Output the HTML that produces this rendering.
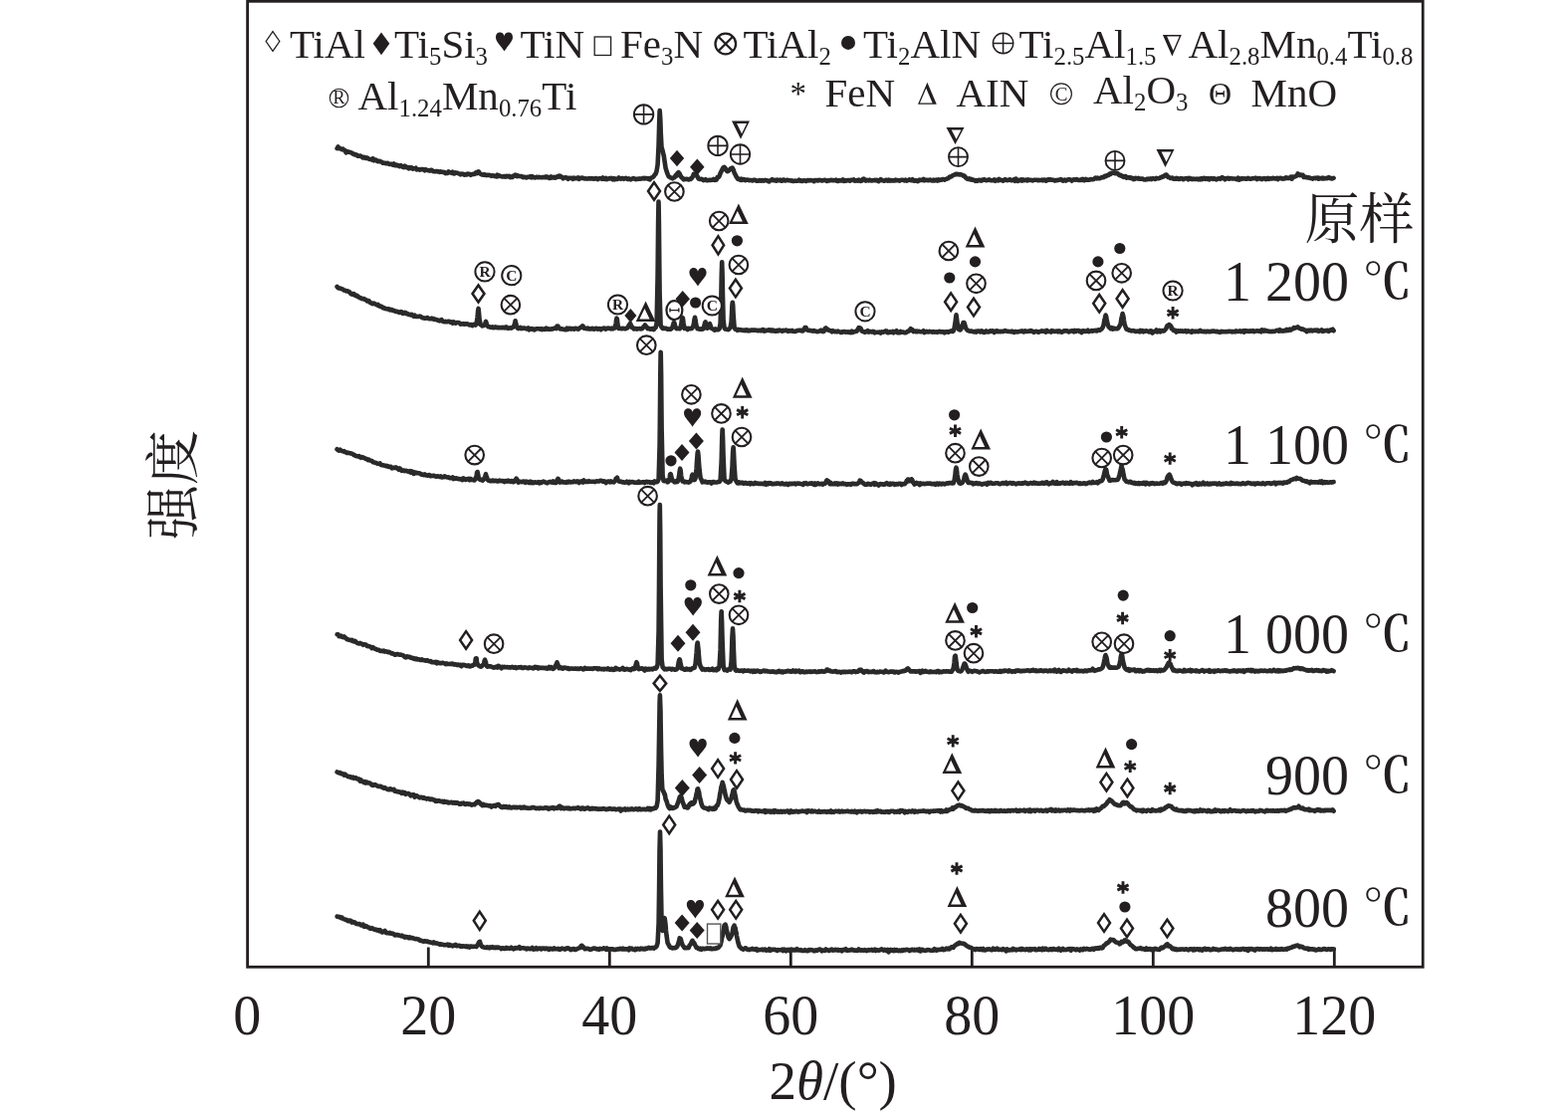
<!DOCTYPE html>
<html><head><meta charset="utf-8"><style>
html,body{margin:0;padding:0;background:#fff;}
svg{display:block;}
.s{font-family:"Liberation Serif","Noto Serif CJK SC",serif;fill:#231f20;}
.cj{font-family:"Liberation Serif","Noto Serif CJK SC",serif;fill:#231f20;}
</style></head><body>
<svg width="1575" height="1120" viewBox="0 0 1575 1120">
<rect width="1575" height="1120" fill="#fff"/>
<rect x="248.6" y="1.3" width="1180.6" height="970" fill="none" stroke="#231f20" stroke-width="2.8"/><path d="M430.3 951.5V971" stroke="#231f20" stroke-width="2.8"/><path d="M612.3 951.5V971" stroke="#231f20" stroke-width="2.8"/><path d="M794.3 951.5V971" stroke="#231f20" stroke-width="2.8"/><path d="M976.3 951.5V971" stroke="#231f20" stroke-width="2.8"/><path d="M1158.3 951.5V971" stroke="#231f20" stroke-width="2.8"/><path d="M1340.3 951.5V971" stroke="#231f20" stroke-width="2.8"/>
<ellipse cx="677.4" cy="311.6" rx="8" ry="9.5" fill="#fff" stroke="#231f20" stroke-width="2.2"/><path d="M673.0 311.6L681.8 311.6M673.0 309.6L673.0 313.6M681.8 309.6L681.8 313.6" stroke="#231f20" stroke-width="1.4"/>
<path d="M338.6 149.1 L339.6 147.5 L340.6 149.2 L341.6 149.2 L342.6 149.6 L343.6 150.1 L344.6 149.7 L345.6 150.9 L346.6 151.0 L347.6 153.3 L348.6 152.3 L349.6 152.4 L350.6 152.8 L351.6 153.0 L352.6 153.2 L353.6 153.9 L354.6 154.6 L355.6 154.6 L356.6 155.5 L357.6 155.3 L358.6 155.8 L359.6 156.8 L360.6 156.6 L361.6 156.5 L362.6 156.9 L363.6 157.6 L364.6 158.5 L365.6 157.8 L366.6 158.1 L367.6 159.0 L368.6 158.4 L369.6 159.0 L370.6 159.8 L371.6 160.0 L372.6 160.0 L373.6 160.6 L374.6 159.3 L375.6 161.3 L376.6 160.6 L377.6 160.6 L378.6 161.7 L379.6 162.2 L380.6 161.9 L381.6 161.9 L382.6 162.6 L383.6 162.8 L384.6 163.7 L385.6 163.7 L386.6 163.7 L387.6 164.3 L388.6 164.0 L389.6 163.9 L390.6 164.8 L391.6 165.0 L392.6 164.9 L393.6 164.9 L394.6 165.6 L395.6 164.5 L396.6 166.2 L397.6 166.3 L398.6 165.6 L399.6 166.5 L400.6 166.3 L401.6 167.2 L402.6 166.2 L403.6 166.9 L404.6 167.8 L405.6 168.1 L406.6 166.8 L407.6 167.7 L408.6 168.3 L409.6 168.0 L410.6 169.2 L411.6 168.1 L412.6 168.9 L413.6 168.4 L414.6 169.7 L415.6 169.2 L416.6 169.2 L417.6 168.7 L418.6 170.4 L419.6 170.1 L420.6 170.2 L421.6 170.6 L422.6 170.3 L423.6 170.0 L424.6 170.1 L425.6 170.2 L426.6 171.3 L427.6 170.2 L428.6 170.7 L429.6 170.9 L430.6 171.3 L431.6 171.6 L432.6 170.9 L433.6 170.8 L434.6 171.7 L435.6 172.3 L436.6 172.2 L437.6 172.1 L438.6 172.0 L439.6 172.4 L440.6 172.2 L441.6 172.8 L442.6 172.2 L443.6 172.7 L444.6 172.7 L445.6 173.1 L446.6 173.1 L447.6 174.2 L448.6 173.8 L449.6 173.9 L450.6 172.4 L451.6 173.3 L452.6 173.3 L453.6 173.9 L454.6 172.7 L455.6 174.4 L456.6 174.4 L457.6 173.4 L458.6 173.7 L459.6 173.8 L460.6 174.3 L461.6 174.7 L462.6 175.4 L463.6 174.5 L464.6 175.0 L465.6 174.8 L466.6 175.6 L467.6 175.2 L468.6 175.5 L469.6 174.5 L470.6 175.0 L471.6 174.7 L472.6 175.8 L473.6 175.4 L474.6 175.0 L475.6 174.8 L476.6 174.9 L477.6 173.8 L478.0 173.4 L478.6 173.6 L479.0 174.2 L479.6 172.7 L480.0 172.5 L480.6 172.4 L481.0 172.6 L481.6 173.9 L482.0 174.4 L482.6 174.5 L483.6 175.3 L484.6 175.6 L485.6 175.8 L486.6 175.2 L487.6 175.8 L488.6 176.1 L489.6 175.8 L490.6 176.0 L491.6 175.9 L492.6 176.2 L493.6 176.8 L494.6 176.2 L495.6 176.4 L496.6 176.9 L497.6 176.9 L498.6 177.4 L499.6 175.7 L500.6 177.1 L501.6 176.5 L502.6 176.9 L503.6 177.2 L504.6 177.4 L505.6 177.4 L506.6 177.0 L507.6 177.7 L508.6 176.9 L509.6 177.0 L510.6 177.4 L511.6 176.9 L512.6 178.1 L513.6 177.6 L514.6 178.0 L515.6 176.8 L516.5 176.3 L516.6 176.5 L517.2 176.4 L517.6 175.7 L518.0 176.1 L518.6 176.0 L518.8 176.9 L519.5 176.3 L519.6 177.1 L520.6 176.8 L521.6 176.9 L522.6 177.1 L523.6 177.0 L524.6 177.6 L525.6 178.1 L526.6 177.7 L527.6 178.0 L528.6 178.5 L529.6 177.9 L530.6 177.9 L531.6 177.7 L532.6 177.1 L533.6 178.2 L534.6 177.1 L535.6 178.2 L536.6 178.0 L537.6 178.5 L538.6 178.0 L539.6 177.7 L540.6 178.3 L541.6 177.9 L542.6 178.1 L543.6 178.2 L544.6 178.1 L545.6 178.1 L546.6 177.9 L547.6 178.2 L548.6 177.3 L549.6 178.2 L550.6 177.8 L551.6 178.9 L552.6 178.9 L553.6 177.5 L554.6 178.5 L555.6 178.4 L556.6 177.9 L557.6 178.6 L558.6 178.1 L559.6 177.3 L560.5 177.6 L560.6 177.6 L561.2 177.3 L561.6 176.6 L562.0 177.4 L562.6 177.6 L562.8 176.8 L563.5 177.4 L563.6 177.8 L564.6 178.0 L565.6 179.3 L566.6 178.7 L567.6 178.2 L568.6 178.3 L569.6 178.7 L570.6 179.8 L571.6 178.7 L572.6 178.9 L573.6 179.0 L574.6 178.8 L575.6 179.9 L576.6 178.6 L577.6 179.2 L578.6 179.0 L579.6 179.2 L580.6 178.4 L581.6 179.8 L582.6 178.9 L583.6 179.0 L584.6 178.6 L585.6 178.7 L586.6 179.3 L587.6 179.5 L588.6 179.4 L589.6 179.6 L590.6 179.4 L591.6 179.1 L592.6 179.5 L593.6 179.4 L594.6 179.1 L595.6 179.5 L596.6 179.8 L597.6 179.3 L598.6 179.1 L599.6 179.6 L600.6 180.1 L601.6 179.2 L602.6 179.3 L603.6 179.3 L604.6 179.9 L605.6 178.5 L606.6 179.5 L607.6 179.9 L608.6 179.0 L609.6 180.1 L610.6 179.7 L611.6 179.2 L612.6 179.5 L613.6 178.8 L614.6 179.2 L615.6 180.3 L616.6 179.1 L617.6 180.3 L618.6 179.5 L619.6 180.0 L620.6 179.6 L621.6 178.5 L622.6 179.3 L623.6 179.7 L624.6 179.1 L625.6 179.0 L626.6 179.8 L627.6 179.3 L628.6 178.9 L629.6 179.3 L630.6 180.0 L631.6 179.4 L632.6 180.1 L633.6 180.4 L634.6 179.7 L635.6 179.2 L636.6 179.1 L637.6 179.7 L638.6 180.1 L639.6 179.8 L640.6 179.9 L641.6 179.5 L642.6 179.8 L643.6 179.5 L644.6 179.5 L645.6 179.1 L646.6 178.9 L647.6 179.4 L648.6 179.0 L649.6 179.0 L650.6 179.7 L651.6 179.2 L652.6 180.4 L653.6 179.3 L654.6 178.2 L655.6 178.2 L656.6 177.2 L657.6 175.6 L658.6 174.8 L659.6 171.7 L660.6 165.5 L661.6 145.5 L661.7 141.2 L662.2 123.1 L662.6 112.2 L662.7 111.1 L663.2 118.4 L663.4 122.8 L663.6 129.4 L663.7 132.9 L664.5 147.6 L664.6 148.3 L665.6 151.5 L666.6 155.9 L666.7 155.8 L667.6 162.1 L667.8 163.4 L668.6 168.9 L669.6 172.2 L670.6 174.8 L671.6 177.2 L672.6 177.7 L673.6 178.6 L674.6 178.8 L675.6 179.4 L676.6 178.5 L677.6 178.3 L678.6 176.2 L679.5 175.6 L679.6 176.6 L680.5 174.1 L680.6 173.9 L681.5 173.1 L681.6 173.9 L682.5 174.6 L682.6 174.2 L683.5 176.6 L683.6 176.6 L684.6 178.4 L685.6 178.8 L686.6 180.4 L687.6 180.1 L688.6 180.0 L689.6 179.8 L690.6 180.0 L691.6 180.5 L692.6 179.8 L693.6 180.0 L694.6 179.0 L695.5 178.1 L695.6 177.8 L696.6 175.8 L696.8 174.7 L697.6 174.8 L698.0 174.9 L698.6 174.9 L699.2 175.9 L699.6 176.0 L700.5 177.5 L700.6 177.4 L701.6 179.6 L702.6 179.9 L703.6 180.0 L704.6 179.8 L705.6 180.4 L706.6 181.1 L707.6 180.7 L708.6 180.2 L709.6 181.2 L710.6 181.2 L711.6 181.0 L712.6 180.9 L713.6 181.0 L714.6 180.7 L715.6 180.8 L716.6 180.0 L717.6 180.9 L718.6 180.1 L719.6 180.5 L720.6 178.1 L721.6 178.2 L722.6 176.8 L723.6 174.1 L724.6 172.0 L725.6 169.9 L726.6 168.3 L727.6 167.8 L728.6 169.1 L729.6 171.1 L730.6 172.2 L731.6 171.7 L732.6 170.9 L733.6 169.6 L734.6 169.1 L735.6 168.7 L736.6 170.4 L737.6 173.6 L738.6 175.4 L739.6 177.5 L740.6 179.0 L741.6 180.0 L742.6 179.7 L743.6 180.8 L744.6 179.8 L745.6 180.9 L746.6 180.0 L747.6 180.2 L748.6 181.2 L749.6 180.7 L750.6 180.6 L751.6 180.8 L752.6 181.2 L753.6 181.0 L754.6 181.0 L755.6 181.5 L756.6 180.8 L757.6 180.9 L758.6 180.9 L759.6 181.6 L760.6 181.6 L761.6 181.7 L762.6 181.1 L763.6 181.1 L764.6 181.6 L765.6 181.0 L766.6 181.6 L767.6 181.5 L768.6 180.9 L769.6 181.2 L770.6 181.2 L771.6 182.0 L772.6 182.4 L773.6 181.2 L774.6 181.2 L775.6 180.2 L776.6 181.3 L777.6 181.2 L778.6 180.8 L779.6 181.6 L780.6 180.5 L781.6 181.1 L782.6 181.3 L783.6 180.7 L784.6 181.6 L785.6 181.7 L786.6 180.6 L787.6 180.6 L788.6 181.5 L789.6 181.2 L790.6 180.7 L791.6 181.1 L792.6 181.2 L793.6 181.2 L794.6 181.6 L795.6 181.4 L796.6 182.0 L797.6 181.9 L798.6 181.6 L799.6 181.7 L800.6 181.8 L801.6 181.6 L802.6 180.7 L803.6 181.6 L804.6 181.3 L805.6 182.0 L806.6 181.3 L807.6 181.5 L808.6 181.4 L809.6 182.0 L810.6 181.3 L811.6 181.1 L812.6 181.4 L813.6 181.0 L814.6 181.3 L815.6 181.2 L816.6 181.4 L817.6 182.1 L818.6 181.0 L819.6 181.2 L820.6 181.1 L821.6 181.5 L822.6 180.7 L823.6 180.9 L824.6 181.2 L825.6 181.5 L826.6 181.2 L827.6 181.0 L828.6 180.8 L829.6 181.4 L830.6 181.9 L831.6 181.4 L832.6 181.3 L833.6 181.4 L834.6 180.8 L835.6 181.1 L836.6 181.1 L837.6 181.3 L838.6 181.2 L839.6 180.6 L840.6 181.7 L841.6 181.9 L842.6 181.1 L843.6 181.4 L844.6 181.3 L845.6 181.5 L846.6 180.5 L847.6 181.9 L848.6 181.0 L849.6 181.7 L850.6 181.2 L851.6 181.0 L852.6 181.1 L853.6 181.6 L854.6 180.8 L855.6 181.0 L856.6 180.9 L857.6 180.4 L858.6 181.7 L859.6 181.4 L860.6 181.1 L861.6 181.7 L862.6 180.7 L863.6 181.1 L864.6 181.9 L865.6 181.6 L866.6 180.1 L867.6 179.6 L868.6 180.7 L869.6 181.6 L870.6 180.9 L871.6 181.0 L872.6 181.4 L873.6 180.7 L874.6 181.2 L875.6 181.5 L876.6 181.3 L877.6 181.3 L878.6 180.8 L879.6 181.3 L880.6 180.9 L881.6 181.7 L882.6 182.2 L883.6 180.8 L884.6 180.1 L885.6 180.9 L886.6 181.3 L887.6 181.6 L888.6 181.6 L889.6 180.7 L890.6 180.7 L891.6 181.6 L892.6 180.6 L893.6 181.6 L894.6 181.0 L895.6 181.4 L896.6 181.4 L897.6 181.4 L898.6 181.4 L899.6 180.6 L900.6 181.2 L901.6 181.1 L902.6 181.2 L903.6 181.6 L904.6 180.9 L905.6 180.7 L906.6 180.7 L907.6 180.9 L908.6 181.4 L909.6 180.7 L910.6 181.6 L911.6 181.2 L912.6 180.9 L913.6 180.4 L914.6 181.1 L915.6 181.3 L916.6 180.2 L917.6 181.6 L918.6 181.8 L919.6 181.2 L920.6 181.2 L921.6 182.1 L922.6 181.6 L923.6 180.6 L924.6 181.0 L925.6 180.9 L926.6 180.9 L927.6 179.9 L928.6 181.3 L929.6 180.7 L930.6 181.0 L931.6 180.9 L932.6 181.3 L933.6 180.8 L934.6 180.6 L935.6 181.2 L936.6 181.5 L937.6 180.7 L938.6 181.5 L939.6 181.0 L940.6 180.6 L941.6 181.5 L942.6 180.4 L943.6 181.2 L944.6 180.5 L945.6 180.8 L946.6 180.0 L947.6 180.0 L948.6 180.7 L949.6 180.1 L950.6 179.8 L951.6 179.2 L952.6 179.2 L953.6 177.9 L954.6 177.5 L955.6 177.4 L956.6 176.5 L957.6 175.9 L958.6 175.6 L959.6 175.1 L960.6 174.7 L961.6 175.3 L962.6 175.0 L963.6 175.4 L964.6 175.2 L965.6 175.5 L966.6 175.7 L967.6 176.8 L968.6 176.6 L969.6 177.9 L970.6 179.0 L971.6 179.8 L972.6 179.9 L973.6 179.4 L974.6 180.3 L975.6 179.9 L976.6 180.8 L977.6 180.5 L978.6 181.0 L979.6 181.8 L980.6 181.1 L981.6 181.8 L982.6 180.9 L983.6 180.7 L984.6 181.4 L985.6 181.6 L986.6 180.6 L987.6 180.9 L988.6 180.2 L989.6 180.8 L990.6 181.3 L991.6 180.9 L992.6 180.7 L993.6 180.3 L994.6 181.1 L995.6 181.3 L996.6 181.2 L997.6 181.1 L998.6 180.4 L999.6 181.7 L1000.6 180.9 L1001.6 180.9 L1002.6 181.3 L1003.6 180.0 L1004.6 180.9 L1005.6 180.9 L1006.6 181.1 L1007.6 181.6 L1008.6 181.2 L1009.6 180.1 L1010.6 180.8 L1011.6 181.1 L1012.6 181.0 L1013.6 180.4 L1014.6 180.2 L1015.6 181.2 L1016.6 181.1 L1017.6 181.0 L1018.6 180.2 L1019.6 181.8 L1020.6 179.7 L1021.6 180.8 L1022.6 181.9 L1023.6 180.9 L1024.6 181.1 L1025.6 180.4 L1026.6 181.6 L1027.6 180.4 L1028.6 181.1 L1029.6 181.0 L1030.6 180.5 L1031.6 181.4 L1032.6 180.3 L1033.6 180.7 L1034.6 181.0 L1035.6 180.8 L1036.6 181.2 L1037.6 181.4 L1038.6 180.8 L1039.6 180.7 L1040.6 180.7 L1041.6 180.8 L1042.6 181.3 L1043.6 180.9 L1044.6 181.1 L1045.6 180.9 L1046.6 180.6 L1047.6 181.3 L1048.6 180.5 L1049.6 180.9 L1050.6 181.6 L1051.6 180.5 L1052.6 180.9 L1053.6 180.2 L1054.6 180.7 L1055.6 180.3 L1056.6 180.8 L1057.6 180.7 L1058.6 181.0 L1059.6 181.6 L1060.6 181.0 L1061.6 181.2 L1062.6 180.9 L1063.6 180.8 L1064.6 180.5 L1065.6 180.1 L1066.6 180.9 L1067.6 181.6 L1068.6 181.1 L1069.6 180.6 L1070.6 181.6 L1071.6 180.7 L1072.6 180.6 L1073.6 180.3 L1074.6 180.4 L1075.6 180.7 L1076.6 181.7 L1077.6 180.7 L1078.6 180.3 L1079.6 180.5 L1080.6 180.7 L1081.6 180.0 L1082.6 180.8 L1083.6 181.0 L1084.6 180.8 L1085.6 180.9 L1086.6 180.1 L1087.6 179.9 L1088.6 181.2 L1089.6 181.1 L1090.6 179.9 L1091.6 180.6 L1092.6 180.5 L1093.6 180.7 L1094.6 180.5 L1095.6 180.1 L1096.6 180.3 L1097.6 180.2 L1098.6 180.0 L1099.6 179.1 L1100.6 178.5 L1101.6 179.3 L1102.6 178.7 L1103.6 179.3 L1104.6 179.3 L1105.6 178.8 L1106.6 178.1 L1107.6 178.0 L1108.6 178.1 L1109.6 176.8 L1110.6 177.1 L1111.6 176.6 L1112.6 175.9 L1113.6 176.0 L1114.6 174.6 L1115.6 175.0 L1116.6 173.9 L1117.6 173.8 L1118.6 173.5 L1119.6 174.2 L1120.6 173.7 L1121.6 174.3 L1122.6 174.1 L1123.6 175.4 L1124.6 176.1 L1125.6 175.8 L1126.6 176.9 L1127.6 176.8 L1128.6 177.9 L1129.6 177.4 L1130.6 177.0 L1131.6 178.7 L1132.6 178.3 L1133.6 178.2 L1134.6 178.6 L1135.6 178.3 L1136.6 179.1 L1137.6 178.9 L1138.6 180.1 L1139.6 179.9 L1140.6 178.9 L1141.6 179.0 L1142.6 179.5 L1143.6 178.9 L1144.6 179.8 L1145.6 179.8 L1146.6 179.5 L1147.6 179.6 L1148.6 180.1 L1149.6 180.5 L1150.6 180.5 L1151.6 179.9 L1152.6 180.2 L1153.6 179.5 L1154.6 180.0 L1155.6 179.4 L1156.6 180.1 L1157.6 179.2 L1158.6 179.3 L1159.6 179.7 L1160.6 179.9 L1161.6 178.9 L1162.6 179.2 L1163.6 179.3 L1164.6 179.1 L1165.6 178.2 L1166.6 178.1 L1167.6 177.3 L1168.6 177.5 L1169.6 176.7 L1170.6 175.7 L1171.6 175.5 L1172.6 177.0 L1173.6 178.0 L1174.6 178.2 L1175.6 179.0 L1176.6 178.7 L1177.6 178.6 L1178.6 179.7 L1179.6 179.5 L1180.6 179.8 L1181.6 178.9 L1182.6 179.7 L1183.6 179.3 L1184.6 180.0 L1185.6 179.4 L1186.6 179.3 L1187.6 179.4 L1188.6 180.2 L1189.6 179.6 L1190.6 179.3 L1191.6 179.2 L1192.6 179.1 L1193.6 180.3 L1194.6 178.8 L1195.6 179.2 L1196.6 179.9 L1197.6 180.1 L1198.6 179.5 L1199.6 180.0 L1200.6 179.9 L1201.6 180.0 L1202.6 179.6 L1203.6 180.3 L1204.6 179.7 L1205.6 180.3 L1206.6 179.1 L1207.6 180.0 L1208.6 179.0 L1209.6 178.9 L1210.6 179.8 L1211.6 179.2 L1212.6 179.8 L1213.6 179.1 L1214.6 180.3 L1215.6 179.6 L1216.6 179.0 L1217.6 179.6 L1218.6 179.9 L1219.6 179.2 L1220.6 179.8 L1221.6 180.4 L1222.6 179.9 L1223.6 179.5 L1224.6 179.3 L1225.6 179.8 L1226.6 178.8 L1227.6 178.1 L1228.6 179.2 L1229.6 179.0 L1230.6 180.3 L1231.6 179.5 L1232.6 179.0 L1233.6 178.9 L1234.6 179.7 L1235.6 179.1 L1236.6 179.2 L1237.6 179.4 L1238.6 179.5 L1239.6 179.5 L1240.6 179.5 L1241.6 180.0 L1242.6 180.2 L1243.6 178.7 L1244.6 180.6 L1245.6 179.5 L1246.6 180.0 L1247.6 179.1 L1248.6 179.5 L1249.6 179.5 L1250.6 179.4 L1251.6 179.8 L1252.6 179.7 L1253.6 178.9 L1254.6 179.3 L1255.6 179.7 L1256.6 179.7 L1257.6 179.2 L1258.6 179.2 L1259.6 179.3 L1260.6 178.8 L1261.6 178.8 L1262.6 180.0 L1263.6 179.1 L1264.6 179.4 L1265.6 179.0 L1266.6 179.9 L1267.6 180.1 L1268.6 179.2 L1269.6 179.5 L1270.6 179.0 L1271.6 180.1 L1272.6 179.7 L1273.6 178.9 L1274.6 179.8 L1275.6 179.4 L1276.6 179.4 L1277.6 179.4 L1278.6 178.9 L1279.6 179.0 L1280.6 179.5 L1281.6 179.2 L1282.6 178.8 L1283.6 180.1 L1284.6 179.1 L1285.6 178.9 L1286.6 178.9 L1287.6 179.5 L1288.6 179.6 L1289.6 179.2 L1290.6 179.5 L1291.6 178.4 L1292.6 178.9 L1293.6 178.7 L1294.6 178.9 L1295.6 178.9 L1296.6 177.6 L1297.6 179.7 L1298.6 177.6 L1299.6 177.7 L1300.6 177.5 L1301.6 177.0 L1302.6 176.3 L1303.6 174.5 L1304.6 175.2 L1305.6 176.1 L1306.6 175.6 L1307.6 175.9 L1308.6 175.8 L1309.6 177.9 L1310.6 178.0 L1311.6 177.7 L1312.6 178.3 L1313.6 178.5 L1314.6 178.2 L1315.6 178.7 L1316.6 179.0 L1317.6 179.2 L1318.6 179.6 L1319.6 179.0 L1320.6 178.8 L1321.6 179.2 L1322.6 178.8 L1323.6 178.5 L1324.6 179.6 L1325.6 178.9 L1326.6 179.1 L1327.6 179.4 L1328.6 178.6 L1329.6 179.4 L1330.6 179.3 L1331.6 179.0 L1332.6 179.3 L1333.6 178.7 L1334.6 178.1 L1335.6 178.9 L1336.6 178.7 L1337.6 179.5 L1338.6 179.2 L1339.6 178.8" fill="none" stroke="#2a2a2a" stroke-width="4.6" stroke-linejoin="round" stroke-linecap="round"/><path d="M338.6 288.0 L339.6 289.1 L340.6 289.5 L341.6 289.6 L342.6 290.1 L343.6 290.3 L344.6 290.8 L345.6 291.6 L346.6 291.8 L347.6 292.4 L348.6 292.3 L349.6 292.5 L350.6 293.0 L351.6 294.0 L352.6 295.2 L353.6 295.6 L354.6 295.1 L355.6 295.3 L356.6 296.8 L357.6 297.1 L358.6 296.8 L359.6 298.3 L360.6 298.4 L361.6 299.3 L362.6 299.3 L363.6 300.0 L364.6 300.3 L365.6 300.1 L366.6 300.9 L367.6 301.2 L368.6 302.4 L369.6 302.0 L370.6 302.2 L371.6 303.7 L372.6 304.3 L373.6 304.9 L374.6 305.2 L375.6 304.5 L376.6 305.3 L377.6 305.8 L378.6 306.4 L379.6 305.9 L380.6 307.3 L381.6 307.8 L382.6 307.6 L383.6 308.4 L384.6 309.3 L385.6 309.1 L386.6 309.9 L387.6 310.1 L388.6 310.2 L389.6 310.5 L390.6 310.4 L391.6 311.4 L392.6 310.9 L393.6 311.1 L394.6 312.0 L395.6 311.7 L396.6 312.5 L397.6 313.0 L398.6 312.8 L399.6 313.1 L400.6 313.7 L401.6 313.9 L402.6 313.1 L403.6 313.5 L404.6 314.9 L405.6 314.7 L406.6 313.9 L407.6 314.4 L408.6 315.3 L409.6 315.1 L410.6 316.0 L411.6 316.0 L412.6 316.4 L413.6 315.9 L414.6 316.9 L415.6 317.8 L416.6 316.7 L417.6 317.9 L418.6 318.0 L419.6 318.0 L420.6 317.9 L421.6 317.6 L422.6 317.9 L423.6 318.9 L424.6 319.2 L425.6 319.5 L426.6 319.6 L427.6 319.7 L428.6 319.3 L429.6 319.1 L430.6 320.0 L431.6 320.3 L432.6 320.3 L433.6 319.7 L434.6 320.4 L435.6 320.1 L436.6 321.0 L437.6 320.7 L438.6 321.2 L439.6 321.6 L440.6 321.7 L441.6 322.4 L442.6 321.5 L443.6 321.2 L444.6 322.7 L445.6 323.1 L446.6 323.3 L447.6 322.9 L448.6 323.2 L449.6 323.1 L450.6 322.7 L451.6 323.1 L452.6 323.8 L453.6 323.4 L454.6 324.7 L455.6 323.3 L456.6 323.9 L457.6 324.7 L458.6 324.1 L459.6 324.0 L460.6 324.0 L461.6 324.5 L462.6 325.6 L463.6 325.2 L464.6 325.4 L465.6 325.1 L466.6 325.8 L467.6 325.6 L468.6 325.2 L469.6 325.5 L470.6 325.9 L471.6 326.5 L472.6 326.0 L473.6 326.4 L474.6 327.1 L475.6 325.9 L476.6 325.7 L477.6 326.5 L478.6 325.4 L479.6 318.6 L479.7 317.6 L480.1 312.3 L480.5 310.2 L480.6 310.0 L480.9 312.9 L481.3 317.1 L481.6 320.6 L482.6 326.0 L483.6 326.6 L484.6 327.4 L485.6 327.1 L486.6 326.4 L487.2 325.5 L487.6 324.0 L488.0 323.0 L488.4 323.8 L488.6 324.6 L488.8 325.4 L489.6 327.3 L490.6 328.2 L491.6 328.3 L492.6 328.9 L493.6 328.8 L494.6 328.3 L495.6 329.2 L496.6 329.0 L497.6 328.4 L498.6 328.8 L499.6 329.2 L500.6 328.9 L501.6 329.3 L502.6 329.1 L503.6 329.3 L504.6 328.9 L505.6 329.2 L506.6 328.9 L507.6 329.5 L508.6 328.4 L509.6 329.4 L510.6 329.9 L511.6 329.6 L512.6 329.3 L513.6 329.6 L514.6 328.9 L515.6 328.6 L516.6 326.5 L516.8 325.7 L517.2 324.1 L517.6 322.3 L518.0 324.2 L518.4 325.1 L518.6 326.4 L519.6 329.2 L520.6 330.1 L521.6 329.5 L522.6 328.9 L523.6 330.1 L524.6 329.9 L525.6 329.5 L526.6 329.6 L527.6 329.8 L528.6 330.2 L529.6 330.5 L530.6 329.5 L531.6 331.3 L532.6 330.2 L533.6 330.1 L534.6 330.6 L535.6 330.4 L536.6 331.4 L537.6 330.9 L538.6 330.3 L539.6 330.3 L540.6 330.2 L541.6 330.3 L542.6 330.8 L543.6 330.2 L544.6 331.2 L545.6 330.5 L546.6 330.5 L547.6 331.0 L548.6 329.6 L549.6 330.1 L550.6 330.8 L551.6 330.5 L552.6 330.5 L553.6 330.7 L554.6 330.2 L555.6 330.4 L556.6 329.8 L557.6 329.4 L558.6 330.0 L559.0 328.4 L559.5 327.6 L559.6 328.4 L560.0 328.0 L560.5 327.7 L560.6 327.9 L561.0 328.8 L561.6 329.3 L562.6 330.5 L563.6 330.4 L564.6 330.4 L565.6 330.7 L566.6 330.7 L567.6 331.2 L568.6 331.1 L569.6 329.6 L570.6 330.8 L571.6 329.8 L572.6 329.7 L573.6 330.6 L574.6 330.0 L575.6 330.1 L576.6 330.7 L577.6 329.9 L578.6 329.8 L579.6 330.3 L580.6 330.7 L581.6 330.3 L582.6 329.2 L583.6 328.8 L584.0 328.4 L584.5 328.5 L584.6 327.9 L585.0 327.5 L585.5 328.1 L585.6 327.6 L586.0 328.7 L586.6 329.6 L587.6 329.5 L588.6 330.0 L589.6 330.3 L590.6 329.6 L591.6 330.4 L592.6 330.4 L593.6 330.5 L594.6 329.7 L595.6 330.1 L596.6 330.7 L597.6 330.4 L598.6 329.7 L599.6 330.1 L600.6 330.7 L601.6 330.0 L602.6 330.2 L603.6 331.2 L604.6 330.0 L605.6 330.0 L606.6 329.6 L607.6 329.8 L608.6 330.7 L609.6 330.0 L610.6 329.5 L611.6 329.7 L612.6 330.1 L613.6 330.4 L614.6 329.7 L615.6 330.3 L616.6 329.6 L617.6 329.4 L618.6 325.3 L618.7 324.6 L619.1 321.1 L619.5 319.6 L619.6 320.1 L619.9 320.7 L620.3 324.4 L620.6 326.7 L621.6 330.0 L622.6 329.9 L623.6 330.0 L624.6 330.2 L625.6 329.8 L626.6 330.1 L627.6 330.3 L628.6 330.2 L629.6 329.5 L630.6 329.2 L631.6 326.9 L631.8 327.7 L632.4 325.8 L632.6 325.8 L633.0 324.9 L633.6 326.0 L634.2 327.6 L634.6 328.7 L635.6 329.0 L636.6 330.5 L637.6 330.2 L638.6 330.0 L639.6 330.6 L640.6 330.2 L641.6 330.2 L642.6 330.0 L643.6 330.4 L644.6 330.2 L645.6 329.6 L646.6 328.0 L646.8 327.9 L647.4 327.2 L647.6 327.3 L648.0 326.5 L648.6 327.7 L649.2 328.1 L649.6 328.3 L650.6 330.1 L651.6 329.7 L652.6 330.4 L653.6 330.8 L654.6 330.1 L655.6 330.1 L656.6 331.1 L657.6 329.7 L658.6 329.0 L659.6 325.2 L660.6 277.2 L660.7 267.2 L661.1 225.1 L661.5 202.6 L661.6 205.8 L661.9 224.5 L662.3 266.7 L662.6 294.8 L663.6 326.7 L664.6 328.6 L665.6 329.9 L666.6 329.6 L667.6 330.0 L668.6 329.7 L669.6 330.1 L670.6 330.7 L671.6 330.6 L672.6 330.6 L673.6 330.8 L674.6 330.0 L675.6 328.0 L676.0 326.7 L676.5 325.5 L676.6 324.4 L677.0 323.9 L677.5 324.7 L677.6 325.2 L678.0 327.0 L678.6 328.8 L679.6 330.1 L680.6 330.0 L681.6 330.0 L682.6 330.3 L683.6 329.0 L684.5 324.5 L684.6 323.4 L685.0 320.2 L685.5 319.1 L685.6 319.2 L686.0 319.9 L686.5 324.5 L686.6 325.1 L687.6 330.0 L688.6 329.8 L689.6 329.9 L690.6 331.0 L691.6 329.8 L692.6 330.3 L693.6 330.1 L694.6 330.0 L695.6 329.0 L696.6 326.7 L697.0 324.7 L697.5 320.9 L697.6 320.3 L698.0 318.8 L698.5 321.4 L698.6 321.6 L699.0 324.7 L699.6 327.1 L700.6 330.2 L701.6 330.0 L702.6 330.8 L703.6 330.8 L704.6 330.2 L705.6 330.6 L706.6 330.2 L707.5 327.3 L707.6 326.9 L708.0 324.6 L708.5 323.6 L708.6 323.5 L709.0 325.0 L709.5 327.5 L709.6 327.6 L710.6 329.7 L711.6 328.5 L712.0 328.3 L712.5 326.5 L712.6 325.6 L713.0 325.2 L713.5 326.6 L713.6 326.6 L714.0 329.0 L714.6 329.7 L715.6 330.2 L716.6 330.7 L717.6 331.6 L718.6 330.5 L719.6 331.2 L720.6 331.0 L721.6 331.2 L722.6 330.2 L723.6 324.9 L724.4 297.5 L724.6 285.7 L724.8 275.0 L725.2 263.2 L725.6 275.5 L726.0 297.2 L726.6 321.6 L727.6 329.5 L728.6 330.5 L729.6 330.7 L730.6 330.9 L731.6 331.1 L732.6 330.2 L733.6 329.2 L734.6 323.3 L735.0 315.6 L735.4 307.2 L735.6 305.0 L735.8 303.7 L736.2 306.4 L736.6 315.6 L737.6 328.7 L738.6 330.8 L739.6 330.7 L740.6 331.8 L741.6 330.9 L742.6 331.2 L743.6 331.5 L744.6 331.4 L745.6 331.8 L746.6 332.0 L747.6 331.5 L748.6 332.2 L749.6 331.3 L750.6 331.5 L751.6 332.4 L752.6 331.7 L753.6 332.1 L754.6 331.5 L755.6 331.6 L756.6 331.6 L757.6 331.8 L758.6 331.6 L759.6 331.7 L760.6 332.0 L761.6 332.3 L762.6 331.8 L763.6 332.1 L764.6 332.2 L765.6 331.3 L766.6 331.1 L767.6 332.6 L768.6 332.4 L769.6 331.9 L770.6 332.0 L771.6 331.5 L772.6 331.3 L773.6 332.1 L774.6 331.3 L775.6 332.4 L776.6 331.6 L777.6 332.1 L778.6 332.8 L779.6 332.8 L780.6 331.9 L781.6 332.5 L782.6 331.6 L783.6 331.8 L784.6 332.2 L785.6 332.7 L786.6 331.8 L787.6 332.3 L788.6 332.1 L789.6 331.5 L790.6 332.1 L791.6 332.8 L792.6 332.1 L793.6 332.4 L794.6 332.5 L795.6 331.9 L796.6 332.8 L797.6 332.9 L798.6 332.9 L799.6 332.8 L800.6 332.0 L801.6 332.0 L802.6 331.9 L803.6 331.8 L804.6 331.8 L805.6 332.5 L806.6 332.4 L807.6 330.6 L807.8 330.9 L808.4 329.2 L808.6 329.4 L809.0 329.0 L809.6 329.1 L810.2 330.6 L810.6 331.2 L811.6 331.8 L812.6 332.0 L813.6 331.9 L814.6 332.3 L815.6 332.2 L816.6 332.6 L817.6 332.0 L818.6 332.6 L819.6 332.8 L820.6 333.1 L821.6 333.0 L822.6 332.7 L823.6 332.3 L824.6 331.7 L825.6 332.5 L826.6 333.1 L827.6 332.8 L828.6 330.0 L828.8 330.6 L829.4 330.0 L829.6 329.5 L830.0 329.8 L830.6 330.2 L831.2 330.7 L831.6 331.5 L832.6 331.6 L833.6 332.1 L834.6 332.3 L835.6 333.2 L836.6 332.1 L837.6 332.7 L838.6 333.2 L839.6 332.8 L840.6 333.3 L841.6 332.6 L842.6 333.1 L843.6 333.4 L844.6 334.0 L845.6 333.3 L846.6 333.6 L847.6 333.0 L848.6 333.1 L849.6 333.7 L850.6 333.3 L851.6 333.7 L852.6 333.4 L853.6 334.0 L854.6 334.1 L855.6 332.7 L856.6 333.9 L857.6 333.2 L858.6 333.2 L859.6 332.8 L860.6 332.8 L861.6 330.9 L862.1 330.2 L862.6 329.2 L862.7 329.5 L863.3 329.2 L863.6 329.3 L863.9 329.5 L864.5 330.3 L864.6 330.0 L865.6 332.4 L866.6 332.9 L867.6 333.2 L868.6 333.8 L869.6 333.1 L870.6 333.2 L871.6 332.2 L872.6 333.6 L873.6 333.3 L874.6 333.0 L875.6 333.5 L876.6 332.9 L877.6 333.1 L878.6 334.3 L879.6 333.7 L880.6 333.8 L881.6 333.8 L882.6 333.7 L883.6 333.5 L884.6 334.5 L885.6 333.4 L886.6 333.8 L887.6 333.4 L888.6 333.3 L889.6 332.4 L890.6 332.6 L891.6 334.2 L892.6 334.1 L893.6 333.3 L894.6 333.5 L895.6 333.8 L896.6 333.0 L897.6 334.3 L898.6 333.0 L899.6 333.1 L900.6 332.2 L901.6 334.1 L902.6 333.5 L903.6 334.2 L904.6 333.0 L905.6 333.6 L906.6 333.5 L907.6 333.5 L908.6 334.3 L909.6 334.3 L910.6 333.8 L911.6 332.8 L912.6 332.7 L913.3 332.3 L913.6 331.6 L914.0 331.1 L914.6 330.7 L914.8 330.1 L915.5 331.0 L915.6 331.6 L916.3 331.2 L916.6 332.0 L917.6 333.1 L918.6 332.5 L919.6 333.2 L920.6 332.6 L921.6 333.1 L922.6 332.7 L923.6 333.0 L924.6 333.2 L925.6 333.3 L926.6 333.3 L927.6 332.3 L928.6 334.1 L929.6 333.3 L930.6 332.9 L931.6 333.1 L932.6 333.5 L933.6 332.9 L934.6 333.2 L935.6 333.2 L936.6 333.6 L937.6 333.0 L938.6 333.6 L939.6 333.5 L940.6 333.3 L941.6 333.9 L942.6 333.3 L943.6 332.8 L944.6 333.4 L945.6 333.4 L946.6 333.3 L947.6 333.4 L948.6 334.3 L949.6 333.3 L950.6 333.4 L951.6 333.1 L952.6 333.7 L953.6 333.1 L954.6 332.7 L955.6 332.4 L956.6 333.0 L957.6 332.6 L958.6 329.6 L959.5 323.9 L959.6 323.5 L960.0 319.9 L960.5 316.4 L960.6 317.0 L961.0 319.8 L961.5 323.8 L961.6 324.7 L962.6 330.4 L963.6 331.2 L964.6 331.4 L965.6 330.0 L966.5 326.7 L966.6 327.0 L967.2 325.3 L967.6 324.1 L968.0 324.0 L968.6 324.2 L968.8 325.5 L969.5 327.1 L969.6 328.6 L970.6 330.3 L971.6 331.6 L972.6 332.1 L973.6 332.5 L974.6 332.6 L975.6 332.6 L976.6 332.8 L977.6 333.3 L978.6 333.4 L979.6 332.9 L980.6 333.6 L981.6 332.6 L982.6 332.6 L983.6 332.6 L984.6 333.4 L985.6 332.4 L986.6 332.5 L987.6 333.7 L988.6 333.9 L989.6 333.7 L990.6 332.4 L991.6 333.1 L992.6 333.5 L993.6 333.1 L994.6 332.3 L995.6 332.9 L996.6 332.3 L997.6 332.5 L998.6 334.0 L999.6 333.4 L1000.6 332.4 L1001.6 332.4 L1002.6 333.2 L1003.6 332.8 L1004.6 333.3 L1005.6 332.7 L1006.6 332.9 L1007.6 333.1 L1008.6 332.5 L1009.6 332.1 L1010.6 332.5 L1011.6 332.7 L1012.6 332.9 L1013.6 333.0 L1014.6 333.0 L1015.6 333.2 L1016.6 332.6 L1017.6 333.6 L1018.6 333.9 L1019.6 333.1 L1020.6 333.0 L1021.6 333.5 L1022.6 333.2 L1023.6 333.0 L1024.6 332.9 L1025.6 332.6 L1026.6 332.4 L1027.6 333.2 L1028.6 333.5 L1029.6 332.4 L1030.6 332.9 L1031.6 333.0 L1032.6 332.7 L1033.6 332.6 L1034.6 332.7 L1035.6 332.0 L1036.6 332.9 L1037.6 332.8 L1038.6 333.8 L1039.6 333.3 L1040.6 332.7 L1041.6 332.9 L1042.6 333.6 L1043.6 333.6 L1044.6 333.0 L1045.6 332.8 L1046.6 332.2 L1047.6 332.7 L1048.6 332.8 L1049.6 332.5 L1050.6 333.6 L1051.6 332.0 L1052.6 332.8 L1053.6 333.0 L1054.6 333.0 L1055.6 333.6 L1056.6 332.2 L1057.6 332.5 L1058.6 332.9 L1059.6 332.9 L1060.6 332.7 L1061.6 332.5 L1062.6 333.3 L1063.6 332.4 L1064.6 332.6 L1065.6 333.5 L1066.6 333.6 L1067.6 333.2 L1068.6 332.4 L1069.6 332.4 L1070.6 332.4 L1071.6 332.3 L1072.6 332.6 L1073.6 333.4 L1074.6 332.9 L1075.6 332.5 L1076.6 332.4 L1077.6 332.3 L1078.6 333.3 L1079.6 331.9 L1080.6 332.9 L1081.6 332.1 L1082.6 332.3 L1083.6 332.1 L1084.6 333.2 L1085.6 332.7 L1086.6 334.0 L1087.6 332.2 L1088.6 332.2 L1089.6 332.9 L1090.6 332.9 L1091.6 332.5 L1092.6 331.7 L1093.6 333.2 L1094.6 332.8 L1095.6 332.6 L1096.6 332.1 L1097.6 332.6 L1098.6 332.0 L1099.6 332.2 L1100.6 331.9 L1101.6 332.5 L1102.6 331.5 L1103.6 331.4 L1104.6 331.8 L1105.6 331.1 L1106.6 330.4 L1107.6 329.0 L1108.6 326.3 L1109.2 322.4 L1109.6 320.5 L1109.8 319.8 L1110.5 317.1 L1110.6 316.6 L1111.2 318.1 L1111.6 321.2 L1111.8 321.7 L1112.6 325.4 L1113.6 328.3 L1114.6 329.0 L1115.6 330.1 L1116.6 329.2 L1117.6 330.6 L1118.6 329.5 L1119.6 330.0 L1120.6 330.2 L1121.6 330.0 L1122.6 330.1 L1123.6 329.1 L1124.6 327.4 L1125.6 325.3 L1126.3 320.6 L1126.6 319.1 L1127.0 317.6 L1127.6 315.1 L1128.2 317.1 L1128.6 319.2 L1128.9 321.6 L1129.6 325.8 L1130.6 328.6 L1131.6 330.8 L1132.6 330.7 L1133.6 331.6 L1134.6 331.5 L1135.6 332.3 L1136.6 332.4 L1137.6 332.1 L1138.6 332.2 L1139.6 332.5 L1140.6 333.0 L1141.6 332.9 L1142.6 332.6 L1143.6 332.7 L1144.6 333.3 L1145.6 331.9 L1146.6 332.9 L1147.6 332.2 L1148.6 333.3 L1149.6 332.5 L1150.6 332.6 L1151.6 332.2 L1152.6 332.7 L1153.6 333.1 L1154.6 333.5 L1155.6 332.2 L1156.6 332.5 L1157.6 334.5 L1158.6 333.2 L1159.6 332.7 L1160.6 333.0 L1161.6 331.5 L1162.6 333.4 L1163.6 332.8 L1164.6 332.0 L1165.6 333.2 L1166.6 332.3 L1167.6 332.0 L1168.6 332.5 L1169.6 332.1 L1170.6 330.9 L1171.6 329.6 L1171.8 328.7 L1172.6 327.2 L1173.0 327.5 L1173.6 326.9 L1174.3 326.0 L1174.6 326.1 L1175.5 326.9 L1175.6 327.1 L1176.6 328.6 L1176.8 330.1 L1177.6 330.3 L1178.6 331.8 L1179.6 332.2 L1180.6 331.8 L1181.6 333.5 L1182.6 332.5 L1183.6 332.3 L1184.6 332.8 L1185.6 332.3 L1186.6 332.8 L1187.6 332.3 L1188.6 333.0 L1189.6 332.8 L1190.6 332.2 L1191.6 333.3 L1192.6 332.9 L1193.6 332.3 L1194.6 333.0 L1195.6 333.0 L1196.6 333.7 L1197.6 332.5 L1198.6 333.2 L1199.6 332.8 L1200.6 333.1 L1201.6 332.7 L1202.6 332.8 L1203.6 333.1 L1204.6 332.3 L1205.6 331.9 L1206.6 332.9 L1207.6 332.7 L1208.6 332.9 L1209.6 333.2 L1210.6 332.8 L1211.6 333.4 L1212.6 332.8 L1213.6 332.9 L1214.6 333.2 L1215.6 333.1 L1216.6 332.8 L1217.6 332.9 L1218.6 332.5 L1219.6 332.6 L1220.6 332.9 L1221.6 333.2 L1222.6 332.7 L1223.6 333.2 L1224.6 333.7 L1225.6 333.8 L1226.6 332.9 L1227.6 333.3 L1228.6 333.1 L1229.6 333.2 L1230.6 333.2 L1231.6 333.1 L1232.6 333.2 L1233.6 332.9 L1234.6 332.7 L1235.6 332.9 L1236.6 333.0 L1237.6 333.4 L1238.6 333.0 L1239.6 333.1 L1240.6 333.4 L1241.6 332.4 L1242.6 332.7 L1243.6 333.0 L1244.6 332.8 L1245.6 332.3 L1246.6 333.2 L1247.6 332.7 L1248.6 332.3 L1249.6 333.6 L1250.6 332.1 L1251.6 332.7 L1252.6 332.4 L1253.6 332.8 L1254.6 333.0 L1255.6 332.3 L1256.6 332.6 L1257.6 332.6 L1258.6 332.2 L1259.6 333.2 L1260.6 332.7 L1261.6 332.5 L1262.6 332.3 L1263.6 332.5 L1264.6 332.7 L1265.6 332.4 L1266.6 333.2 L1267.6 331.4 L1268.6 331.6 L1269.6 332.5 L1270.6 331.7 L1271.6 332.5 L1272.6 332.2 L1273.6 332.8 L1274.6 332.7 L1275.6 333.1 L1276.6 332.9 L1277.6 333.1 L1278.6 332.7 L1279.6 332.9 L1280.6 332.7 L1281.6 332.2 L1282.6 331.9 L1283.6 331.9 L1284.6 332.6 L1285.6 331.3 L1286.6 332.4 L1287.6 332.0 L1288.6 332.6 L1289.6 332.4 L1290.6 331.9 L1291.6 332.2 L1292.6 331.0 L1293.6 332.0 L1294.6 331.9 L1295.6 330.6 L1296.6 331.5 L1297.6 330.7 L1298.6 330.4 L1299.6 329.2 L1300.6 329.6 L1301.6 329.3 L1302.6 328.8 L1303.6 328.4 L1304.6 329.4 L1305.6 330.0 L1306.6 330.1 L1307.6 330.8 L1308.6 330.5 L1309.6 331.2 L1310.6 331.6 L1311.6 331.7 L1312.6 333.1 L1313.6 332.1 L1314.6 331.7 L1315.6 332.4 L1316.6 331.5 L1317.6 332.2 L1318.6 332.4 L1319.6 331.8 L1320.6 331.9 L1321.6 331.6 L1322.6 332.1 L1323.6 331.7 L1324.6 332.8 L1325.6 332.3 L1326.6 331.9 L1327.6 331.4 L1328.6 332.9 L1329.6 332.6 L1330.6 332.2 L1331.6 332.1 L1332.6 332.1 L1333.6 331.8 L1334.6 332.8 L1335.6 332.1 L1336.6 331.3 L1337.6 331.6 L1338.6 330.8 L1339.6 332.2" fill="none" stroke="#2a2a2a" stroke-width="4.6" stroke-linejoin="round" stroke-linecap="round"/><path d="M338.6 451.3 L339.6 452.1 L340.6 452.6 L341.6 451.6 L342.6 452.5 L343.6 453.1 L344.6 453.4 L345.6 453.1 L346.6 454.1 L347.6 454.3 L348.6 455.0 L349.6 454.7 L350.6 455.0 L351.6 455.2 L352.6 455.6 L353.6 455.8 L354.6 456.3 L355.6 457.0 L356.6 457.4 L357.6 458.1 L358.6 458.3 L359.6 458.5 L360.6 458.0 L361.6 459.2 L362.6 459.8 L363.6 459.0 L364.6 459.5 L365.6 459.9 L366.6 460.3 L367.6 461.0 L368.6 461.1 L369.6 462.1 L370.6 461.7 L371.6 462.6 L372.6 462.8 L373.6 463.0 L374.6 464.2 L375.6 464.2 L376.6 464.8 L377.6 464.7 L378.6 465.5 L379.6 465.8 L380.6 465.8 L381.6 465.4 L382.6 466.9 L383.6 467.2 L384.6 467.2 L385.6 467.6 L386.6 467.8 L387.6 468.1 L388.6 467.8 L389.6 468.5 L390.6 468.9 L391.6 468.7 L392.6 468.8 L393.6 470.4 L394.6 470.0 L395.6 469.9 L396.6 470.0 L397.6 469.3 L398.6 470.1 L399.6 470.9 L400.6 471.8 L401.6 470.5 L402.6 471.4 L403.6 472.8 L404.6 472.5 L405.6 472.6 L406.6 473.1 L407.6 472.8 L408.6 473.0 L409.6 473.6 L410.6 473.9 L411.6 473.2 L412.6 474.6 L413.6 473.3 L414.6 474.0 L415.6 475.9 L416.6 474.5 L417.6 475.2 L418.6 474.7 L419.6 475.2 L420.6 475.2 L421.6 475.5 L422.6 476.2 L423.6 476.8 L424.6 476.6 L425.6 477.1 L426.6 476.4 L427.6 477.4 L428.6 477.2 L429.6 477.7 L430.6 477.1 L431.6 477.3 L432.6 478.2 L433.6 478.0 L434.6 477.9 L435.6 477.7 L436.6 478.1 L437.6 478.5 L438.6 478.8 L439.6 478.3 L440.6 478.5 L441.6 479.0 L442.6 478.4 L443.6 479.5 L444.6 479.2 L445.6 479.2 L446.6 478.3 L447.6 478.8 L448.6 479.2 L449.6 479.5 L450.6 479.4 L451.6 480.1 L452.6 480.1 L453.6 480.0 L454.6 479.4 L455.6 481.0 L456.6 480.3 L457.6 480.8 L458.6 480.4 L459.6 480.8 L460.6 481.2 L461.6 481.0 L462.6 481.5 L463.6 481.0 L464.6 482.1 L465.6 480.4 L466.6 481.1 L467.6 481.9 L468.6 481.4 L469.6 481.4 L470.6 480.8 L471.6 482.2 L472.6 480.9 L473.6 482.0 L474.6 481.9 L475.6 482.2 L476.6 482.4 L477.6 481.0 L478.6 477.9 L478.7 477.5 L479.1 474.6 L479.5 474.5 L479.6 474.1 L479.9 475.4 L480.3 477.2 L480.6 479.3 L481.6 481.4 L482.6 482.0 L483.6 481.7 L484.6 482.7 L485.6 481.8 L486.6 480.0 L487.2 479.5 L487.6 477.3 L488.0 476.2 L488.4 478.6 L488.6 478.3 L488.8 478.7 L489.6 481.5 L490.6 482.6 L491.6 482.5 L492.6 483.3 L493.6 483.3 L494.6 482.5 L495.6 482.9 L496.6 483.3 L497.6 482.8 L498.6 482.9 L499.6 483.5 L500.6 483.4 L501.6 482.6 L502.6 483.0 L503.6 483.1 L504.6 483.3 L505.6 483.1 L506.6 484.0 L507.6 483.0 L508.6 483.0 L509.6 483.6 L510.6 482.6 L511.6 483.2 L512.6 483.9 L513.6 483.1 L514.6 483.3 L515.6 484.1 L516.6 483.6 L517.6 482.2 L518.1 481.4 L518.6 480.6 L519.1 481.5 L519.6 482.2 L520.6 484.6 L521.6 484.1 L522.6 483.8 L523.6 484.0 L524.6 484.1 L525.6 483.5 L526.6 483.8 L527.6 484.8 L528.6 483.6 L529.6 484.0 L530.6 484.7 L531.6 484.9 L532.6 483.8 L533.6 485.0 L534.6 484.2 L535.6 485.1 L536.6 484.6 L537.6 484.3 L538.6 484.7 L539.6 484.7 L540.6 484.1 L541.6 485.4 L542.6 484.3 L543.6 485.0 L544.6 484.2 L545.6 483.6 L546.6 484.0 L547.6 484.4 L548.6 484.8 L549.6 485.3 L550.6 484.5 L551.6 484.3 L552.6 483.9 L553.6 484.4 L554.6 484.6 L555.6 483.4 L556.6 484.9 L557.6 484.8 L558.6 484.9 L559.5 482.3 L559.6 482.6 L560.0 481.9 L560.5 480.8 L560.6 481.0 L561.0 481.4 L561.5 482.9 L561.6 483.1 L562.6 484.6 L563.6 484.0 L564.6 483.6 L565.6 484.4 L566.6 484.4 L567.6 484.5 L568.6 484.8 L569.6 483.9 L570.6 484.5 L571.6 483.7 L572.6 484.2 L573.6 484.4 L574.6 484.0 L575.6 484.2 L576.6 483.4 L577.6 483.7 L578.6 484.1 L579.6 483.4 L580.6 483.6 L581.6 485.0 L582.6 484.0 L583.6 483.5 L584.6 483.4 L585.6 484.5 L586.6 482.5 L587.6 483.6 L588.6 484.0 L589.6 483.5 L590.6 484.0 L591.6 483.2 L592.6 483.7 L593.6 483.7 L594.6 483.7 L595.6 483.7 L596.6 483.7 L597.6 484.1 L598.6 483.5 L599.6 483.4 L600.6 483.5 L601.6 483.5 L602.6 482.9 L603.6 482.8 L604.6 483.0 L605.6 483.8 L606.6 483.4 L607.6 483.5 L608.6 485.0 L609.6 484.2 L610.6 483.6 L611.6 483.5 L612.6 484.4 L613.6 483.4 L614.6 484.3 L615.6 484.0 L616.6 484.3 L617.6 482.9 L618.5 482.1 L618.6 480.7 L619.0 480.5 L619.5 480.5 L619.6 480.3 L620.0 479.8 L620.5 482.1 L620.6 482.2 L621.6 483.5 L622.6 483.6 L623.6 483.9 L624.6 483.8 L625.6 484.5 L626.6 484.4 L627.6 484.7 L628.6 484.5 L629.6 483.7 L630.6 484.3 L631.6 485.3 L632.6 483.8 L633.6 484.5 L634.6 484.0 L635.6 484.0 L636.6 484.5 L637.6 484.8 L638.6 484.8 L639.6 484.6 L640.6 484.9 L641.6 483.7 L642.6 484.8 L643.6 484.6 L644.6 484.4 L645.6 484.4 L646.6 484.1 L647.6 485.0 L648.6 484.1 L649.6 483.8 L650.6 484.4 L651.6 484.1 L652.6 484.3 L653.6 485.0 L654.6 484.3 L655.6 484.3 L656.6 485.2 L657.6 483.5 L658.6 484.1 L659.6 484.1 L660.6 483.6 L661.6 481.3 L662.6 447.0 L662.9 419.5 L663.3 375.8 L663.6 355.3 L663.7 353.7 L664.1 375.2 L664.5 419.4 L664.6 429.9 L665.6 478.0 L666.6 483.0 L667.6 483.2 L668.6 483.3 L669.6 482.7 L670.6 484.3 L671.6 483.6 L672.6 480.0 L672.7 479.4 L673.1 476.5 L673.6 476.1 L674.0 477.1 L674.5 479.9 L674.6 480.2 L675.6 482.7 L676.6 483.3 L677.6 484.3 L678.6 483.3 L679.6 484.1 L680.6 483.9 L681.6 480.3 L682.2 477.3 L682.6 473.7 L682.7 473.2 L683.2 470.7 L683.6 472.3 L683.7 473.2 L684.2 477.8 L684.6 480.1 L685.6 483.5 L686.6 483.4 L687.6 484.3 L688.6 483.9 L689.6 484.2 L690.6 484.3 L691.6 484.6 L692.6 484.2 L693.6 483.4 L694.6 480.5 L694.7 480.7 L695.1 477.5 L695.6 476.8 L696.0 478.3 L696.5 479.4 L696.6 480.3 L697.6 482.1 L698.6 480.1 L699.6 470.4 L699.9 464.8 L700.5 457.2 L700.6 455.5 L701.0 453.5 L701.5 457.4 L701.6 458.8 L702.1 466.1 L702.6 472.1 L703.6 480.1 L704.6 481.8 L705.6 484.3 L706.6 483.8 L707.6 484.1 L708.6 483.6 L709.6 484.2 L710.6 484.7 L711.6 484.3 L712.6 484.4 L713.6 484.3 L714.6 485.5 L715.6 484.4 L716.6 484.0 L717.6 484.4 L718.6 484.5 L719.6 484.5 L720.6 484.4 L721.6 483.8 L722.6 483.9 L723.6 482.4 L724.6 464.9 L724.8 459.3 L725.2 441.5 L725.6 431.5 L725.7 431.7 L726.1 441.2 L726.6 459.0 L727.6 481.8 L728.6 483.0 L729.6 483.7 L730.6 484.1 L731.6 484.6 L732.6 483.6 L733.6 483.7 L734.6 481.1 L735.6 467.6 L735.7 464.4 L736.1 454.5 L736.6 449.2 L737.0 454.3 L737.5 465.7 L737.6 467.3 L738.6 481.7 L739.6 483.5 L740.6 485.2 L741.6 485.5 L742.6 484.5 L743.6 485.2 L744.6 485.3 L745.6 484.7 L746.6 485.6 L747.6 485.6 L748.6 484.9 L749.6 485.4 L750.6 485.8 L751.6 485.4 L752.6 485.1 L753.6 486.2 L754.6 485.1 L755.6 485.7 L756.6 486.1 L757.6 485.9 L758.6 484.8 L759.6 485.5 L760.6 485.6 L761.6 485.6 L762.6 486.0 L763.6 485.9 L764.6 485.8 L765.6 485.8 L766.6 486.2 L767.6 486.3 L768.6 484.9 L769.6 486.8 L770.6 485.5 L771.6 486.2 L772.6 485.1 L773.6 485.6 L774.6 485.3 L775.6 486.3 L776.6 486.3 L777.6 485.9 L778.6 485.8 L779.6 486.0 L780.6 485.4 L781.6 485.6 L782.6 485.5 L783.6 486.3 L784.6 485.9 L785.6 485.3 L786.6 486.1 L787.6 486.1 L788.6 486.5 L789.6 485.7 L790.6 486.1 L791.6 486.9 L792.6 485.8 L793.6 485.8 L794.6 486.2 L795.6 485.7 L796.6 485.9 L797.6 485.7 L798.6 485.6 L799.6 486.4 L800.6 485.8 L801.6 485.5 L802.6 485.8 L803.6 485.9 L804.6 486.1 L805.6 486.4 L806.6 486.8 L807.6 485.4 L808.6 485.9 L809.6 485.2 L810.6 486.1 L811.6 486.2 L812.6 485.7 L813.6 485.6 L814.6 485.5 L815.6 485.3 L816.6 486.3 L817.6 486.9 L818.6 485.5 L819.6 486.7 L820.6 485.9 L821.6 485.4 L822.6 486.2 L823.6 486.3 L824.6 486.1 L825.6 485.8 L826.6 486.6 L827.6 485.6 L828.6 485.7 L829.6 484.8 L829.8 483.8 L830.4 482.6 L830.6 482.4 L831.0 482.9 L831.6 483.6 L832.2 483.4 L832.6 484.4 L833.6 486.2 L834.6 485.0 L835.6 486.1 L836.6 486.1 L837.6 486.3 L838.6 485.3 L839.6 486.2 L840.6 485.4 L841.6 486.6 L842.6 485.6 L843.6 486.2 L844.6 485.7 L845.6 486.1 L846.6 485.4 L847.6 486.2 L848.6 486.3 L849.6 486.1 L850.6 486.8 L851.6 486.2 L852.6 486.4 L853.6 486.3 L854.6 486.9 L855.6 485.8 L856.6 485.9 L857.6 485.9 L858.6 486.3 L859.6 486.1 L860.6 486.3 L861.6 485.8 L862.6 484.7 L863.1 484.3 L863.6 483.8 L863.7 482.5 L864.3 483.8 L864.6 483.0 L864.9 483.3 L865.5 484.4 L865.6 484.3 L866.6 484.8 L867.6 485.7 L868.6 486.6 L869.6 486.5 L870.6 486.6 L871.6 485.8 L872.6 486.0 L873.6 486.6 L874.6 486.8 L875.6 486.1 L876.6 485.7 L877.6 485.2 L878.6 486.8 L879.6 485.4 L880.6 486.3 L881.6 486.6 L882.6 487.6 L883.6 486.2 L884.6 486.1 L885.6 486.4 L886.6 486.4 L887.6 486.8 L888.6 486.5 L889.6 485.8 L890.6 485.2 L891.6 486.3 L892.6 485.8 L893.6 486.8 L894.6 485.6 L895.6 486.3 L896.6 485.8 L897.6 485.7 L898.6 486.9 L899.6 486.2 L900.6 486.1 L901.6 486.5 L902.6 485.8 L903.6 485.9 L904.6 485.8 L905.6 487.0 L906.6 486.1 L907.6 486.2 L908.6 486.2 L909.6 485.1 L910.6 483.7 L910.7 482.8 L911.3 482.7 L911.6 482.2 L911.9 481.7 L912.5 482.8 L912.6 481.6 L913.1 483.3 L913.6 482.8 L914.5 482.5 L914.6 482.8 L915.1 482.9 L915.6 481.3 L915.7 481.4 L916.3 481.9 L916.6 484.0 L916.9 483.8 L917.6 484.9 L918.6 486.5 L919.6 485.9 L920.6 484.9 L921.6 485.7 L922.6 485.5 L923.6 487.0 L924.6 485.4 L925.6 486.2 L926.6 485.8 L927.6 485.9 L928.6 486.1 L929.6 486.0 L930.6 485.7 L931.6 485.5 L932.6 485.7 L933.6 485.6 L934.6 485.6 L935.6 486.1 L936.6 486.0 L937.6 486.2 L938.6 485.9 L939.6 486.9 L940.6 485.7 L941.6 485.5 L942.6 486.5 L943.6 485.6 L944.6 486.0 L945.6 486.4 L946.6 485.9 L947.6 485.8 L948.6 486.4 L949.6 486.0 L950.6 485.6 L951.6 485.3 L952.6 485.6 L953.6 485.0 L954.6 485.3 L955.6 485.1 L956.6 485.5 L957.6 485.3 L958.6 482.7 L959.5 476.7 L959.6 475.4 L960.0 471.5 L960.5 469.6 L960.6 470.1 L961.0 472.4 L961.5 477.1 L961.6 477.6 L962.6 482.3 L963.6 485.3 L964.6 485.7 L965.6 485.4 L966.6 484.9 L967.6 483.3 L968.4 481.2 L968.6 479.3 L969.0 478.2 L969.6 476.6 L970.2 477.8 L970.6 479.1 L970.8 479.8 L971.6 482.3 L972.6 484.9 L973.6 485.0 L974.6 484.8 L975.6 485.1 L976.6 485.0 L977.6 486.3 L978.6 485.5 L979.6 485.7 L980.6 485.1 L981.6 485.2 L982.6 486.1 L983.6 485.5 L984.6 485.7 L985.6 486.5 L986.6 486.6 L987.6 486.0 L988.6 485.9 L989.6 485.7 L990.6 485.5 L991.6 486.6 L992.6 485.0 L993.6 485.6 L994.6 484.7 L995.6 485.0 L996.6 485.8 L997.6 485.8 L998.6 485.7 L999.6 485.4 L1000.6 485.2 L1001.6 485.3 L1002.6 485.4 L1003.6 486.0 L1004.6 486.2 L1005.6 485.7 L1006.6 485.3 L1007.6 485.1 L1008.6 485.6 L1009.6 485.4 L1010.6 484.6 L1011.6 486.1 L1012.6 485.5 L1013.6 485.3 L1014.6 485.0 L1015.6 485.0 L1016.6 485.9 L1017.6 485.0 L1018.6 485.5 L1019.6 485.7 L1020.6 486.3 L1021.6 485.7 L1022.6 485.4 L1023.6 485.2 L1024.6 485.8 L1025.6 485.8 L1026.6 485.2 L1027.6 485.6 L1028.6 485.3 L1029.6 484.6 L1030.6 484.9 L1031.6 485.7 L1032.6 486.0 L1033.6 485.7 L1034.6 485.2 L1035.6 485.0 L1036.6 485.6 L1037.6 485.5 L1038.6 484.6 L1039.6 485.6 L1040.6 485.0 L1041.6 485.6 L1042.6 485.5 L1043.6 485.6 L1044.6 485.8 L1045.6 485.6 L1046.6 484.8 L1047.6 484.8 L1048.6 485.8 L1049.6 485.5 L1050.6 484.5 L1051.6 484.3 L1052.6 485.7 L1053.6 486.3 L1054.6 485.6 L1055.6 485.1 L1056.6 485.4 L1057.6 484.0 L1058.6 484.8 L1059.6 485.7 L1060.6 485.6 L1061.6 484.2 L1062.6 485.8 L1063.6 485.5 L1064.6 485.7 L1065.6 485.1 L1066.6 485.2 L1067.6 484.7 L1068.6 485.4 L1069.6 485.7 L1070.6 484.8 L1071.6 485.4 L1072.6 485.0 L1073.6 485.7 L1074.6 485.7 L1075.6 484.1 L1076.6 485.4 L1077.6 485.7 L1078.6 485.0 L1079.6 485.1 L1080.6 485.1 L1081.6 484.7 L1082.6 485.2 L1083.6 485.9 L1084.6 485.4 L1085.6 485.9 L1086.6 485.7 L1087.6 485.7 L1088.6 485.2 L1089.6 485.5 L1090.6 486.1 L1091.6 485.8 L1092.6 485.2 L1093.6 484.7 L1094.6 484.6 L1095.6 485.1 L1096.6 485.1 L1097.6 484.0 L1098.6 484.9 L1099.6 484.8 L1100.6 484.7 L1101.6 484.2 L1102.6 485.3 L1103.6 484.5 L1104.6 483.2 L1105.6 483.1 L1106.6 483.2 L1107.6 481.5 L1108.6 478.3 L1109.0 476.5 L1109.6 473.7 L1109.8 473.0 L1110.5 471.1 L1110.6 471.8 L1111.2 471.7 L1111.6 474.0 L1112.0 476.7 L1112.6 478.0 L1113.6 480.3 L1114.6 482.8 L1115.6 482.7 L1116.6 482.3 L1117.6 482.1 L1118.6 482.3 L1119.6 482.2 L1120.6 482.2 L1121.6 481.9 L1122.6 482.0 L1123.6 480.2 L1124.6 476.6 L1125.2 473.9 L1125.6 472.4 L1126.0 470.2 L1126.6 467.7 L1126.7 469.5 L1127.5 471.1 L1127.6 471.4 L1128.2 474.7 L1128.6 477.3 L1129.6 481.6 L1130.6 482.5 L1131.6 483.8 L1132.6 483.7 L1133.6 484.4 L1134.6 484.0 L1135.6 483.8 L1136.6 484.9 L1137.6 484.9 L1138.6 485.4 L1139.6 484.8 L1140.6 485.8 L1141.6 485.3 L1142.6 486.0 L1143.6 485.2 L1144.6 486.1 L1145.6 485.4 L1146.6 485.5 L1147.6 485.9 L1148.6 484.7 L1149.6 485.0 L1150.6 486.4 L1151.6 484.9 L1152.6 485.4 L1153.6 485.9 L1154.6 486.3 L1155.6 485.4 L1156.6 485.7 L1157.6 485.1 L1158.6 485.5 L1159.6 486.1 L1160.6 485.8 L1161.6 485.6 L1162.6 485.8 L1163.6 485.7 L1164.6 485.7 L1165.6 485.4 L1166.6 485.0 L1167.6 485.7 L1168.6 484.6 L1169.6 485.2 L1170.6 484.7 L1171.6 482.7 L1171.8 482.7 L1172.6 479.3 L1173.0 478.9 L1173.6 477.5 L1174.3 477.0 L1174.6 476.7 L1175.5 478.3 L1175.6 479.3 L1176.6 481.5 L1176.8 482.2 L1177.6 483.7 L1178.6 484.8 L1179.6 484.7 L1180.6 485.4 L1181.6 485.9 L1182.6 486.2 L1183.6 485.5 L1184.6 485.5 L1185.6 485.6 L1186.6 486.6 L1187.6 486.1 L1188.6 485.7 L1189.6 485.5 L1190.6 486.1 L1191.6 485.1 L1192.6 485.8 L1193.6 485.6 L1194.6 485.6 L1195.6 486.0 L1196.6 486.1 L1197.6 487.3 L1198.6 486.0 L1199.6 486.3 L1200.6 485.6 L1201.6 485.2 L1202.6 486.5 L1203.6 486.9 L1204.6 485.5 L1205.6 485.9 L1206.6 486.5 L1207.6 486.0 L1208.6 484.8 L1209.6 486.4 L1210.6 485.9 L1211.6 486.3 L1212.6 485.5 L1213.6 486.4 L1214.6 486.4 L1215.6 485.6 L1216.6 486.2 L1217.6 485.6 L1218.6 485.7 L1219.6 485.5 L1220.6 485.7 L1221.6 485.6 L1222.6 486.5 L1223.6 485.8 L1224.6 485.4 L1225.6 486.5 L1226.6 486.2 L1227.6 486.4 L1228.6 485.9 L1229.6 486.2 L1230.6 485.8 L1231.6 485.4 L1232.6 485.9 L1233.6 485.9 L1234.6 485.9 L1235.6 486.2 L1236.6 485.0 L1237.6 486.0 L1238.6 485.5 L1239.6 485.7 L1240.6 486.0 L1241.6 485.8 L1242.6 485.5 L1243.6 486.1 L1244.6 485.8 L1245.6 486.2 L1246.6 486.3 L1247.6 485.6 L1248.6 485.2 L1249.6 485.8 L1250.6 486.1 L1251.6 485.9 L1252.6 485.2 L1253.6 484.9 L1254.6 485.2 L1255.6 485.2 L1256.6 485.9 L1257.6 485.7 L1258.6 486.0 L1259.6 485.6 L1260.6 486.4 L1261.6 485.6 L1262.6 485.8 L1263.6 485.4 L1264.6 485.8 L1265.6 486.0 L1266.6 485.9 L1267.6 486.1 L1268.6 485.2 L1269.6 485.7 L1270.6 486.3 L1271.6 485.6 L1272.6 485.4 L1273.6 485.3 L1274.6 485.2 L1275.6 485.5 L1276.6 486.0 L1277.6 485.6 L1278.6 485.3 L1279.6 484.9 L1280.6 484.8 L1281.6 486.4 L1282.6 485.0 L1283.6 485.2 L1284.6 484.9 L1285.6 485.2 L1286.6 484.9 L1287.6 485.1 L1288.6 485.6 L1289.6 484.5 L1290.6 485.0 L1291.6 484.6 L1292.6 484.8 L1293.6 483.9 L1294.6 484.0 L1295.6 483.0 L1296.6 482.2 L1297.6 481.9 L1298.6 481.6 L1299.6 481.0 L1300.6 480.9 L1301.6 481.2 L1302.6 480.0 L1303.6 480.8 L1304.6 480.8 L1305.6 480.8 L1306.6 481.1 L1307.6 482.2 L1308.6 482.7 L1309.6 482.8 L1310.6 483.3 L1311.6 483.7 L1312.6 483.3 L1313.6 484.2 L1314.6 484.4 L1315.6 485.2 L1316.6 483.8 L1317.6 484.1 L1318.6 484.5 L1319.6 484.2 L1320.6 484.3 L1321.6 484.5 L1322.6 484.4 L1323.6 484.5 L1324.6 484.7 L1325.6 483.7 L1326.6 484.7 L1327.6 483.4 L1328.6 485.2 L1329.6 484.9 L1330.6 484.1 L1331.6 484.9 L1332.6 484.3 L1333.6 484.6 L1334.6 484.7 L1335.6 484.5 L1336.6 484.3 L1337.6 484.6 L1338.6 484.2 L1339.6 484.1" fill="none" stroke="#2a2a2a" stroke-width="4.6" stroke-linejoin="round" stroke-linecap="round"/><path d="M338.6 637.3 L339.6 637.3 L340.6 639.2 L341.6 639.2 L342.6 638.6 L343.6 639.8 L344.6 640.1 L345.6 639.4 L346.6 640.4 L347.6 641.1 L348.6 642.3 L349.6 642.4 L350.6 642.8 L351.6 642.7 L352.6 643.4 L353.6 642.8 L354.6 644.0 L355.6 644.4 L356.6 643.8 L357.6 644.9 L358.6 645.8 L359.6 646.3 L360.6 646.5 L361.6 645.9 L362.6 646.5 L363.6 646.7 L364.6 647.8 L365.6 647.2 L366.6 647.5 L367.6 647.6 L368.6 648.8 L369.6 649.2 L370.6 649.1 L371.6 649.4 L372.6 650.0 L373.6 651.1 L374.6 650.2 L375.6 651.1 L376.6 651.6 L377.6 652.0 L378.6 652.7 L379.6 652.8 L380.6 652.9 L381.6 653.8 L382.6 653.9 L383.6 653.8 L384.6 654.1 L385.6 653.7 L386.6 654.6 L387.6 654.4 L388.6 654.5 L389.6 655.2 L390.6 654.8 L391.6 655.4 L392.6 655.8 L393.6 656.5 L394.6 656.4 L395.6 657.0 L396.6 657.8 L397.6 657.7 L398.6 657.0 L399.6 657.0 L400.6 657.6 L401.6 657.8 L402.6 657.6 L403.6 657.9 L404.6 658.2 L405.6 658.9 L406.6 660.0 L407.6 660.4 L408.6 659.4 L409.6 659.9 L410.6 659.7 L411.6 659.8 L412.6 660.7 L413.6 660.9 L414.6 660.8 L415.6 661.6 L416.6 661.4 L417.6 662.2 L418.6 661.7 L419.6 662.5 L420.6 662.2 L421.6 662.6 L422.6 663.0 L423.6 662.3 L424.6 662.8 L425.6 663.2 L426.6 663.3 L427.6 663.7 L428.6 663.4 L429.6 663.4 L430.6 664.1 L431.6 664.4 L432.6 664.1 L433.6 665.2 L434.6 665.1 L435.6 665.3 L436.6 665.4 L437.6 664.8 L438.6 666.3 L439.6 665.2 L440.6 665.8 L441.6 666.1 L442.6 666.1 L443.6 666.1 L444.6 665.8 L445.6 666.1 L446.6 666.4 L447.6 667.1 L448.6 666.3 L449.6 667.0 L450.6 667.0 L451.6 667.0 L452.6 666.8 L453.6 667.1 L454.6 666.5 L455.6 667.4 L456.6 667.6 L457.6 667.3 L458.6 667.9 L459.6 667.9 L460.6 667.5 L461.6 668.3 L462.6 667.8 L463.6 669.2 L464.6 667.7 L465.6 667.9 L466.6 668.0 L467.6 668.5 L468.6 669.0 L469.6 668.6 L470.6 668.4 L471.6 669.5 L472.6 669.2 L473.6 668.6 L474.6 668.7 L475.6 667.9 L476.6 667.8 L477.4 665.4 L477.6 662.9 L477.8 661.6 L478.2 661.2 L478.6 661.2 L479.0 665.3 L479.6 666.8 L480.6 668.5 L481.6 669.0 L482.6 669.7 L483.6 669.4 L484.6 668.3 L485.6 667.5 L486.3 666.0 L486.6 663.5 L486.7 663.9 L487.1 662.7 L487.5 664.4 L487.6 665.1 L487.9 664.9 L488.6 668.6 L489.6 669.7 L490.6 669.2 L491.6 669.4 L492.6 669.2 L493.6 669.7 L494.6 670.1 L495.6 670.5 L496.6 670.6 L497.6 669.9 L498.6 669.6 L499.6 670.5 L500.6 668.8 L501.6 669.5 L502.6 670.4 L503.6 671.2 L504.6 669.8 L505.6 670.3 L506.6 669.7 L507.6 670.2 L508.6 670.2 L509.6 670.0 L510.6 670.5 L511.6 670.3 L512.6 670.6 L513.6 670.3 L514.6 669.9 L515.6 670.5 L516.6 670.8 L517.6 670.1 L518.6 671.1 L519.6 670.7 L520.6 670.3 L521.6 670.5 L522.6 670.3 L523.6 670.1 L524.6 671.0 L525.6 671.0 L526.6 670.4 L527.6 670.5 L528.6 670.5 L529.6 671.0 L530.6 671.3 L531.6 670.4 L532.6 670.8 L533.6 670.7 L534.6 671.0 L535.6 671.4 L536.6 670.3 L537.6 669.8 L538.6 670.7 L539.6 670.1 L540.6 671.5 L541.6 670.5 L542.6 670.7 L543.6 670.9 L544.6 670.9 L545.6 670.7 L546.6 670.9 L547.6 671.3 L548.6 670.8 L549.6 671.7 L550.6 671.1 L551.6 669.9 L552.6 671.3 L553.6 670.1 L554.6 671.1 L555.6 671.9 L556.6 671.2 L557.6 669.6 L558.5 667.6 L558.6 667.7 L559.0 667.1 L559.5 665.3 L559.6 666.1 L560.0 666.6 L560.5 668.0 L560.6 668.3 L561.6 671.2 L562.6 670.2 L563.6 670.5 L564.6 671.5 L565.6 671.6 L566.6 670.6 L567.6 670.8 L568.6 670.7 L569.6 671.5 L570.6 671.0 L571.6 672.0 L572.6 671.7 L573.6 671.5 L574.6 671.5 L575.6 671.7 L576.6 671.8 L577.6 671.5 L578.6 671.6 L579.6 671.9 L580.6 671.5 L581.6 672.0 L582.6 671.5 L583.6 671.3 L584.6 671.7 L585.6 672.4 L586.6 672.3 L587.6 671.0 L588.6 671.8 L589.6 671.5 L590.6 671.6 L591.6 671.6 L592.6 671.7 L593.6 671.6 L594.6 671.7 L595.6 671.9 L596.6 671.3 L597.6 671.3 L598.6 671.4 L599.6 671.4 L600.6 672.2 L601.6 671.4 L602.6 671.9 L603.6 672.0 L604.6 672.3 L605.6 672.0 L606.6 672.4 L607.6 671.9 L608.6 672.1 L609.6 672.3 L610.6 671.3 L611.6 672.2 L612.6 672.7 L613.6 672.1 L614.6 671.9 L615.6 672.9 L616.6 672.1 L617.6 672.6 L618.6 671.0 L619.6 672.1 L620.6 671.9 L621.6 672.3 L622.6 672.6 L623.6 672.0 L624.6 672.0 L625.6 670.9 L626.6 672.5 L627.6 672.7 L628.6 672.2 L629.6 671.9 L630.6 672.3 L631.6 672.6 L632.6 672.4 L633.6 673.1 L634.6 671.8 L635.6 671.4 L636.6 672.1 L637.6 671.8 L638.5 668.4 L638.6 668.2 L639.0 666.4 L639.4 665.2 L639.6 665.6 L639.9 665.8 L640.3 668.7 L640.6 670.0 L641.6 672.1 L642.6 671.6 L643.6 671.8 L644.6 671.4 L645.6 671.5 L646.6 672.6 L647.6 673.5 L648.6 671.7 L649.6 672.0 L650.6 672.6 L651.6 671.9 L652.6 672.4 L653.6 672.0 L654.6 671.9 L655.6 672.4 L656.6 671.7 L657.6 671.0 L658.6 671.6 L659.6 670.5 L660.6 667.6 L661.6 634.0 L662.0 589.8 L662.4 534.0 L662.6 514.2 L662.8 507.1 L663.2 534.3 L663.6 590.0 L664.6 662.4 L665.6 670.2 L666.6 671.3 L667.6 672.4 L668.6 671.8 L669.6 672.4 L670.6 672.0 L671.6 671.7 L672.6 671.8 L673.6 671.9 L674.6 672.6 L675.6 671.9 L676.6 672.3 L677.6 672.6 L678.6 672.7 L679.6 672.3 L680.6 671.3 L681.5 666.1 L681.6 665.8 L682.0 663.7 L682.5 662.5 L682.6 662.3 L683.0 663.2 L683.5 666.5 L683.6 666.5 L684.6 671.4 L685.6 671.2 L686.6 672.3 L687.6 672.8 L688.6 672.7 L689.6 671.6 L690.6 672.4 L691.6 672.2 L692.6 672.1 L693.6 672.9 L694.6 672.2 L695.6 671.2 L696.6 670.9 L697.6 670.7 L698.6 666.7 L699.6 655.9 L700.1 648.5 L700.6 645.6 L700.7 645.6 L701.2 649.7 L701.6 653.5 L701.8 656.8 L702.6 665.7 L703.6 669.3 L704.6 671.1 L705.6 672.6 L706.6 672.0 L707.6 672.4 L708.6 672.9 L709.6 672.2 L710.6 672.5 L711.6 672.0 L712.6 673.0 L713.6 672.6 L714.6 672.6 L715.6 671.7 L716.6 673.3 L717.6 673.1 L718.6 672.4 L719.6 673.3 L720.6 671.5 L721.6 672.2 L722.6 669.5 L723.6 652.9 L723.8 642.5 L724.2 623.5 L724.6 614.4 L724.7 614.6 L725.1 624.5 L725.6 643.9 L726.6 668.8 L727.6 673.1 L728.6 672.3 L729.6 673.0 L730.6 673.7 L731.6 672.4 L732.6 672.4 L733.6 672.6 L734.6 664.9 L735.1 651.9 L735.5 638.5 L735.6 638.1 L736.0 631.4 L736.5 638.9 L736.6 643.1 L736.9 652.2 L737.6 668.5 L738.6 673.1 L739.6 673.7 L740.6 673.3 L741.6 673.6 L742.6 673.7 L743.6 673.9 L744.6 673.6 L745.6 673.6 L746.6 674.4 L747.6 673.4 L748.6 673.7 L749.6 673.8 L750.6 673.7 L751.6 673.5 L752.6 673.7 L753.6 674.4 L754.6 673.9 L755.6 673.8 L756.6 674.9 L757.6 673.6 L758.6 674.7 L759.6 674.4 L760.6 673.6 L761.6 674.1 L762.6 674.1 L763.6 674.9 L764.6 674.8 L765.6 674.2 L766.6 673.8 L767.6 673.6 L768.6 674.3 L769.6 673.8 L770.6 674.4 L771.6 674.4 L772.6 674.6 L773.6 674.9 L774.6 674.5 L775.6 674.7 L776.6 674.4 L777.6 675.0 L778.6 674.9 L779.6 675.3 L780.6 675.2 L781.6 674.2 L782.6 673.9 L783.6 674.9 L784.6 675.1 L785.6 674.3 L786.6 675.3 L787.6 674.6 L788.6 674.5 L789.6 674.7 L790.6 674.0 L791.6 673.9 L792.6 674.4 L793.6 674.1 L794.6 674.6 L795.6 674.6 L796.6 673.5 L797.6 674.3 L798.6 674.9 L799.6 673.6 L800.6 674.5 L801.6 674.0 L802.6 673.7 L803.6 675.1 L804.6 675.1 L805.6 674.4 L806.6 674.4 L807.6 675.3 L808.6 675.2 L809.6 674.6 L810.6 675.0 L811.6 674.7 L812.6 674.5 L813.6 674.9 L814.6 674.5 L815.6 674.9 L816.6 674.6 L817.6 674.5 L818.6 674.4 L819.6 674.9 L820.6 675.1 L821.6 674.9 L822.6 674.3 L823.6 674.9 L824.6 674.2 L825.6 674.1 L826.6 674.5 L827.6 674.8 L828.6 674.4 L829.5 673.8 L829.6 674.1 L830.2 673.4 L830.6 672.6 L831.0 673.1 L831.6 672.8 L831.8 673.2 L832.5 673.8 L832.6 673.6 L833.6 673.5 L834.6 674.4 L835.6 674.5 L836.6 674.6 L837.6 674.5 L838.6 674.2 L839.6 674.0 L840.6 675.0 L841.6 675.1 L842.6 674.9 L843.6 674.7 L844.6 675.6 L845.6 675.1 L846.6 674.8 L847.6 675.1 L848.6 674.7 L849.6 675.1 L850.6 674.9 L851.6 675.0 L852.6 674.8 L853.6 674.6 L854.6 675.0 L855.6 675.3 L856.6 674.4 L857.6 674.5 L858.6 674.2 L859.6 675.1 L860.6 674.5 L861.6 674.7 L862.6 673.4 L862.8 674.0 L863.5 672.8 L863.6 672.9 L864.3 673.1 L864.6 672.7 L865.0 672.8 L865.6 673.9 L865.8 673.6 L866.6 674.7 L867.6 675.6 L868.6 674.4 L869.6 674.6 L870.6 674.1 L871.6 674.3 L872.6 675.1 L873.6 674.9 L874.6 674.9 L875.6 675.0 L876.6 674.5 L877.6 674.1 L878.6 675.3 L879.6 675.0 L880.6 675.4 L881.6 674.8 L882.6 675.2 L883.6 674.6 L884.6 674.8 L885.6 674.8 L886.6 675.0 L887.6 675.5 L888.6 675.1 L889.6 673.6 L890.6 674.8 L891.6 674.9 L892.6 675.2 L893.6 674.9 L894.6 674.5 L895.6 674.5 L896.6 674.7 L897.6 674.5 L898.6 675.5 L899.6 675.1 L900.6 674.8 L901.6 675.2 L902.6 675.7 L903.6 674.7 L904.6 674.7 L905.6 674.5 L906.6 674.0 L907.6 674.1 L908.6 673.6 L909.6 673.6 L910.0 673.3 L910.6 672.9 L911.0 671.9 L911.6 672.4 L912.0 671.4 L912.6 671.9 L913.0 672.8 L913.6 673.3 L914.0 673.5 L914.6 674.4 L915.6 674.5 L916.6 674.3 L917.6 674.5 L918.6 674.3 L919.6 674.8 L920.6 674.4 L921.6 674.5 L922.6 674.3 L923.6 674.0 L924.6 675.9 L925.6 675.2 L926.6 673.8 L927.6 675.0 L928.6 674.5 L929.6 673.8 L930.6 674.7 L931.6 674.8 L932.6 675.0 L933.6 675.2 L934.6 674.4 L935.6 674.7 L936.6 675.0 L937.6 675.0 L938.6 674.9 L939.6 674.7 L940.6 675.2 L941.6 674.1 L942.6 674.0 L943.6 675.4 L944.6 674.8 L945.6 675.1 L946.6 674.7 L947.6 674.4 L948.6 674.4 L949.6 674.6 L950.6 674.3 L951.6 674.5 L952.6 674.4 L953.6 674.7 L954.6 674.6 L955.6 674.8 L956.6 673.4 L957.6 671.7 L958.5 666.0 L958.6 664.8 L959.0 659.8 L959.5 658.7 L959.6 658.6 L960.0 660.7 L960.5 665.4 L960.6 666.1 L961.6 672.8 L962.6 673.9 L963.6 673.9 L964.6 674.4 L965.6 674.0 L966.6 672.3 L967.6 669.6 L967.8 668.8 L968.4 667.4 L968.6 666.5 L969.0 666.5 L969.6 667.3 L970.2 669.2 L970.6 670.2 L971.6 672.9 L972.6 674.8 L973.6 673.8 L974.6 673.8 L975.6 674.2 L976.6 674.9 L977.6 674.3 L978.6 673.8 L979.6 674.1 L980.6 674.3 L981.6 674.4 L982.6 674.8 L983.6 675.4 L984.6 674.9 L985.6 674.6 L986.6 674.3 L987.6 674.0 L988.6 674.6 L989.6 674.9 L990.6 674.7 L991.6 674.2 L992.6 674.6 L993.6 674.2 L994.6 674.2 L995.6 674.2 L996.6 674.3 L997.6 674.2 L998.6 674.7 L999.6 674.2 L1000.6 674.2 L1001.6 674.7 L1002.6 674.5 L1003.6 674.7 L1004.6 673.9 L1005.6 674.8 L1006.6 674.2 L1007.6 673.7 L1008.6 674.1 L1009.6 673.6 L1010.6 673.7 L1011.6 673.9 L1012.6 674.5 L1013.6 673.5 L1014.6 674.2 L1015.6 674.0 L1016.6 674.8 L1017.6 674.2 L1018.6 674.3 L1019.6 674.7 L1020.6 673.6 L1021.6 673.9 L1022.6 673.4 L1023.6 673.7 L1024.6 674.2 L1025.6 673.9 L1026.6 674.2 L1027.6 673.8 L1028.6 673.7 L1029.6 673.9 L1030.6 673.6 L1031.6 673.5 L1032.6 673.3 L1033.6 673.9 L1034.6 674.1 L1035.6 673.4 L1036.6 673.7 L1037.6 672.9 L1038.6 673.4 L1039.6 673.9 L1040.6 673.3 L1041.6 674.1 L1042.6 673.7 L1043.6 674.0 L1044.6 673.6 L1045.6 673.2 L1046.6 673.8 L1047.6 674.2 L1048.6 673.6 L1049.6 674.0 L1050.6 673.5 L1051.6 673.7 L1052.6 674.4 L1053.6 673.8 L1054.6 673.4 L1055.6 674.1 L1056.6 673.8 L1057.6 673.6 L1058.6 674.1 L1059.6 672.6 L1060.6 674.1 L1061.6 674.6 L1062.6 673.9 L1063.6 673.0 L1064.6 674.4 L1065.6 674.9 L1066.6 674.1 L1067.6 673.3 L1068.6 673.5 L1069.6 673.8 L1070.6 673.9 L1071.6 674.3 L1072.6 674.0 L1073.6 672.8 L1074.6 673.7 L1075.6 673.7 L1076.6 674.6 L1077.6 673.5 L1078.6 673.2 L1079.6 673.6 L1080.6 673.9 L1081.6 673.0 L1082.6 674.2 L1083.6 673.7 L1084.6 674.1 L1085.6 674.0 L1086.6 673.9 L1087.6 674.3 L1088.6 674.4 L1089.6 673.5 L1090.6 673.6 L1091.6 674.1 L1092.6 673.6 L1093.6 673.3 L1094.6 673.5 L1095.6 673.1 L1096.6 673.2 L1097.6 671.8 L1098.6 673.3 L1099.6 673.9 L1100.6 673.3 L1101.6 673.2 L1102.6 672.8 L1103.6 672.2 L1104.6 672.5 L1105.6 672.0 L1106.6 671.4 L1107.6 670.3 L1108.6 666.7 L1109.2 663.7 L1109.6 661.6 L1109.8 660.3 L1110.5 658.0 L1110.6 658.3 L1111.2 659.8 L1111.6 661.2 L1111.8 662.5 L1112.6 667.1 L1113.6 669.2 L1114.6 670.7 L1115.6 670.1 L1116.6 670.6 L1117.6 670.6 L1118.6 670.5 L1119.6 670.6 L1120.6 670.8 L1121.6 670.8 L1122.6 670.3 L1123.6 669.7 L1124.6 667.2 L1125.4 662.8 L1125.6 661.3 L1126.0 658.7 L1126.6 656.9 L1126.7 656.9 L1127.3 659.2 L1127.6 661.8 L1128.0 663.7 L1128.6 666.7 L1129.6 670.4 L1130.6 671.8 L1131.6 672.7 L1132.6 673.1 L1133.6 672.2 L1134.6 673.8 L1135.6 672.6 L1136.6 673.2 L1137.6 672.9 L1138.6 672.6 L1139.6 672.6 L1140.6 674.3 L1141.6 674.2 L1142.6 673.1 L1143.6 673.1 L1144.6 674.3 L1145.6 673.2 L1146.6 673.9 L1147.6 674.6 L1148.6 674.0 L1149.6 674.4 L1150.6 673.8 L1151.6 673.0 L1152.6 673.4 L1153.6 672.9 L1154.6 673.9 L1155.6 673.2 L1156.6 673.8 L1157.6 673.5 L1158.6 673.4 L1159.6 673.9 L1160.6 673.5 L1161.6 673.3 L1162.6 674.1 L1163.6 673.6 L1164.6 672.9 L1165.6 674.1 L1166.6 672.9 L1167.6 673.5 L1168.6 673.4 L1169.6 672.6 L1170.6 671.5 L1171.6 670.3 L1172.3 668.9 L1172.6 667.9 L1173.3 667.3 L1173.6 666.1 L1174.3 665.5 L1174.6 666.6 L1175.3 666.6 L1175.6 666.8 L1176.3 669.0 L1176.6 669.7 L1177.6 671.4 L1178.6 673.4 L1179.6 672.8 L1180.6 673.9 L1181.6 673.9 L1182.6 674.2 L1183.6 673.6 L1184.6 673.5 L1185.6 673.6 L1186.6 673.9 L1187.6 674.2 L1188.6 674.5 L1189.6 673.0 L1190.6 674.3 L1191.6 674.0 L1192.6 673.8 L1193.6 673.4 L1194.6 674.0 L1195.6 673.0 L1196.6 674.4 L1197.6 673.4 L1198.6 673.8 L1199.6 673.8 L1200.6 674.1 L1201.6 673.3 L1202.6 674.2 L1203.6 674.0 L1204.6 674.6 L1205.6 674.0 L1206.6 673.8 L1207.6 673.0 L1208.6 673.7 L1209.6 674.6 L1210.6 673.7 L1211.6 673.7 L1212.6 673.8 L1213.6 674.3 L1214.6 673.1 L1215.6 674.7 L1216.6 674.1 L1217.6 674.2 L1218.6 673.9 L1219.6 674.8 L1220.6 673.7 L1221.6 674.2 L1222.6 673.9 L1223.6 673.3 L1224.6 673.8 L1225.6 674.2 L1226.6 673.8 L1227.6 673.7 L1228.6 673.9 L1229.6 673.5 L1230.6 673.4 L1231.6 673.9 L1232.6 673.5 L1233.6 674.1 L1234.6 674.2 L1235.6 674.5 L1236.6 674.3 L1237.6 673.8 L1238.6 674.1 L1239.6 673.4 L1240.6 674.1 L1241.6 673.7 L1242.6 674.5 L1243.6 673.6 L1244.6 674.0 L1245.6 673.5 L1246.6 674.2 L1247.6 674.2 L1248.6 673.4 L1249.6 674.8 L1250.6 674.1 L1251.6 673.3 L1252.6 673.5 L1253.6 673.1 L1254.6 673.0 L1255.6 673.8 L1256.6 673.0 L1257.6 674.1 L1258.6 673.2 L1259.6 673.7 L1260.6 674.6 L1261.6 673.7 L1262.6 673.9 L1263.6 674.4 L1264.6 673.7 L1265.6 674.1 L1266.6 673.5 L1267.6 673.7 L1268.6 673.9 L1269.6 673.9 L1270.6 673.5 L1271.6 674.0 L1272.6 674.1 L1273.6 674.1 L1274.6 673.9 L1275.6 673.4 L1276.6 674.1 L1277.6 674.2 L1278.6 673.4 L1279.6 672.8 L1280.6 673.7 L1281.6 674.3 L1282.6 674.2 L1283.6 673.3 L1284.6 674.4 L1285.6 673.4 L1286.6 674.2 L1287.6 673.5 L1288.6 674.1 L1289.6 673.9 L1290.6 673.5 L1291.6 673.8 L1292.6 673.1 L1293.6 673.0 L1294.6 672.9 L1295.6 672.4 L1296.6 672.9 L1297.6 672.6 L1298.6 671.8 L1299.6 671.1 L1300.6 671.4 L1301.6 671.1 L1302.6 671.2 L1303.6 670.9 L1304.6 671.0 L1305.6 671.9 L1306.6 671.4 L1307.6 671.9 L1308.6 671.5 L1309.6 672.4 L1310.6 672.6 L1311.6 672.9 L1312.6 673.5 L1313.6 673.1 L1314.6 673.7 L1315.6 673.4 L1316.6 673.5 L1317.6 672.9 L1318.6 673.9 L1319.6 674.0 L1320.6 673.3 L1321.6 673.5 L1322.6 673.0 L1323.6 673.6 L1324.6 673.3 L1325.6 674.0 L1326.6 673.7 L1327.6 674.1 L1328.6 673.4 L1329.6 673.0 L1330.6 673.8 L1331.6 673.5 L1332.6 674.6 L1333.6 673.9 L1334.6 674.4 L1335.6 674.0 L1336.6 673.7 L1337.6 673.1 L1338.6 673.7 L1339.6 674.1" fill="none" stroke="#2a2a2a" stroke-width="4.6" stroke-linejoin="round" stroke-linecap="round"/><path d="M338.6 775.5 L339.6 776.0 L340.6 776.4 L341.6 776.0 L342.6 777.1 L343.6 777.0 L344.6 777.7 L345.6 778.7 L346.6 777.6 L347.6 778.8 L348.6 779.4 L349.6 780.1 L350.6 780.0 L351.6 780.0 L352.6 781.0 L353.6 781.3 L354.6 780.6 L355.6 781.8 L356.6 781.3 L357.6 781.3 L358.6 782.3 L359.6 782.7 L360.6 782.5 L361.6 784.6 L362.6 783.5 L363.6 784.6 L364.6 785.1 L365.6 786.1 L366.6 785.3 L367.6 786.5 L368.6 785.6 L369.6 786.4 L370.6 786.5 L371.6 786.6 L372.6 787.5 L373.6 788.5 L374.6 788.9 L375.6 788.5 L376.6 788.0 L377.6 788.5 L378.6 789.4 L379.6 789.7 L380.6 790.0 L381.6 789.9 L382.6 789.9 L383.6 790.8 L384.6 790.8 L385.6 791.7 L386.6 791.1 L387.6 792.0 L388.6 792.5 L389.6 793.1 L390.6 793.3 L391.6 792.3 L392.6 792.5 L393.6 793.3 L394.6 793.2 L395.6 792.8 L396.6 794.8 L397.6 794.6 L398.6 795.1 L399.6 795.0 L400.6 795.7 L401.6 795.6 L402.6 795.8 L403.6 796.9 L404.6 795.8 L405.6 796.8 L406.6 796.1 L407.6 797.8 L408.6 797.2 L409.6 797.1 L410.6 797.1 L411.6 798.0 L412.6 799.3 L413.6 798.9 L414.6 798.2 L415.6 798.2 L416.6 800.7 L417.6 799.4 L418.6 799.2 L419.6 800.2 L420.6 800.6 L421.6 801.3 L422.6 800.7 L423.6 800.7 L424.6 801.6 L425.6 801.1 L426.6 801.9 L427.6 802.0 L428.6 802.6 L429.6 802.0 L430.6 802.3 L431.6 802.9 L432.6 803.2 L433.6 802.5 L434.6 803.0 L435.6 803.6 L436.6 803.5 L437.6 804.9 L438.6 804.4 L439.6 804.8 L440.6 804.3 L441.6 804.6 L442.6 804.7 L443.6 805.3 L444.6 804.8 L445.6 805.8 L446.6 804.9 L447.6 805.8 L448.6 805.6 L449.6 805.5 L450.6 806.5 L451.6 806.3 L452.6 805.9 L453.6 805.7 L454.6 806.6 L455.6 806.0 L456.6 806.7 L457.6 806.1 L458.6 806.7 L459.6 806.4 L460.6 806.8 L461.6 807.7 L462.6 807.8 L463.6 806.9 L464.6 807.1 L465.6 806.6 L466.6 807.6 L467.6 808.0 L468.6 807.2 L469.6 807.2 L470.6 807.9 L471.6 807.5 L472.6 807.9 L473.6 808.6 L474.6 808.1 L475.6 808.1 L476.6 808.3 L477.6 807.0 L478.0 806.9 L478.6 806.2 L479.0 805.6 L479.6 806.3 L480.0 805.0 L480.6 805.8 L481.0 805.5 L481.6 806.2 L482.0 806.3 L482.6 807.3 L483.6 808.3 L484.6 809.1 L485.6 807.9 L486.6 809.0 L487.6 808.8 L488.6 808.8 L489.6 809.1 L490.6 809.4 L491.6 809.3 L492.6 809.4 L493.6 810.5 L494.6 809.6 L495.6 809.7 L496.6 809.0 L497.6 809.9 L498.5 808.8 L498.6 808.9 L499.2 808.3 L499.6 808.5 L500.0 808.1 L500.6 808.1 L500.8 808.1 L501.5 809.1 L501.6 809.3 L502.6 810.1 L503.6 810.8 L504.6 811.1 L505.6 810.0 L506.6 810.1 L507.6 810.8 L508.6 810.2 L509.6 811.1 L510.6 811.2 L511.6 810.3 L512.6 811.1 L513.6 811.5 L514.6 811.1 L515.6 810.8 L516.6 810.9 L517.6 811.3 L518.6 810.8 L519.6 811.3 L520.6 811.1 L521.6 810.9 L522.6 810.8 L523.6 811.6 L524.6 810.9 L525.6 811.5 L526.6 810.6 L527.6 811.4 L528.6 811.5 L529.6 811.6 L530.6 811.9 L531.6 811.8 L532.6 811.8 L533.6 811.5 L534.6 811.1 L535.6 811.1 L536.6 811.3 L537.6 811.8 L538.6 812.1 L539.6 811.8 L540.6 811.8 L541.6 812.1 L542.6 811.6 L543.6 811.8 L544.6 811.7 L545.6 811.9 L546.6 811.7 L547.6 811.2 L548.6 811.6 L549.6 811.4 L550.6 812.6 L551.6 812.5 L552.6 811.6 L553.6 811.5 L554.6 811.8 L555.6 811.2 L556.6 812.4 L557.6 811.8 L558.6 811.5 L559.6 811.9 L560.5 811.6 L560.6 811.0 L561.2 811.1 L561.6 809.8 L562.0 810.1 L562.6 810.2 L562.8 809.9 L563.5 811.4 L563.6 812.2 L564.6 811.0 L565.6 811.5 L566.6 812.4 L567.6 811.8 L568.6 811.9 L569.6 811.6 L570.6 812.1 L571.6 811.6 L572.6 812.4 L573.6 812.3 L574.6 812.2 L575.6 811.7 L576.6 812.0 L577.6 812.3 L578.6 811.7 L579.6 811.7 L580.6 811.1 L581.6 811.9 L582.6 812.1 L583.6 812.6 L584.6 811.6 L585.6 811.5 L586.6 812.7 L587.6 812.7 L588.6 811.7 L589.6 812.0 L590.6 811.4 L591.6 812.2 L592.6 812.8 L593.6 812.6 L594.6 811.8 L595.6 812.4 L596.6 812.0 L597.6 812.5 L598.6 812.1 L599.6 812.6 L600.6 812.9 L601.6 812.5 L602.6 812.6 L603.6 812.6 L604.6 812.8 L605.6 812.3 L606.6 812.4 L607.6 812.5 L608.6 813.1 L609.6 812.7 L610.6 812.9 L611.6 812.5 L612.6 812.1 L613.6 812.6 L614.6 812.9 L615.6 812.6 L616.6 812.5 L617.6 812.6 L618.6 813.1 L619.6 813.0 L620.6 812.9 L621.6 812.5 L622.6 812.6 L623.6 814.5 L624.6 812.9 L625.6 813.2 L626.6 813.1 L627.6 812.4 L628.6 813.6 L629.6 813.0 L630.6 812.6 L631.6 813.3 L632.6 812.8 L633.6 813.1 L634.6 812.4 L635.6 812.9 L636.6 813.3 L637.6 812.8 L638.6 812.4 L639.6 812.6 L640.6 813.3 L641.6 812.3 L642.6 812.3 L643.6 813.3 L644.6 813.0 L645.6 812.9 L646.6 812.7 L647.6 813.0 L648.6 813.2 L649.6 813.0 L650.6 812.0 L651.6 813.0 L652.6 811.9 L653.6 813.3 L654.6 812.2 L655.6 812.5 L656.6 812.2 L657.6 811.4 L658.6 811.7 L659.6 810.0 L660.6 804.4 L661.6 768.6 L661.8 755.8 L662.4 719.2 L662.6 705.7 L662.9 698.4 L663.5 714.7 L663.6 724.9 L663.9 743.9 L664.0 750.2 L664.6 778.7 L665.2 791.2 L665.6 793.6 L666.5 795.6 L666.6 795.1 L667.6 798.2 L667.8 797.7 L668.6 802.6 L669.1 803.9 L669.6 804.9 L670.6 808.4 L671.6 810.8 L672.6 812.1 L673.6 810.5 L674.6 811.3 L675.6 812.0 L676.6 811.2 L677.6 811.4 L678.6 810.7 L679.6 810.1 L680.6 807.3 L681.6 804.7 L682.6 801.0 L683.6 799.7 L684.6 801.3 L685.6 805.2 L686.6 807.9 L687.6 810.6 L688.6 810.1 L689.6 811.1 L690.6 811.5 L691.6 810.5 L692.6 807.8 L692.7 809.0 L693.5 807.2 L693.6 808.3 L694.3 806.5 L694.6 806.9 L695.1 806.4 L695.6 807.6 L695.9 806.3 L696.6 807.2 L697.6 805.9 L698.6 801.7 L699.0 800.9 L699.6 797.2 L700.0 796.0 L700.6 792.5 L701.0 792.3 L701.6 794.1 L702.0 795.2 L702.6 798.9 L703.0 801.0 L703.6 803.4 L704.6 807.7 L705.6 810.2 L706.6 811.2 L707.6 811.5 L708.6 811.7 L709.6 812.0 L710.6 812.6 L711.6 813.2 L712.6 811.6 L713.6 811.8 L714.6 812.1 L715.6 812.8 L716.6 811.6 L717.6 812.7 L718.6 812.3 L719.6 809.4 L720.6 809.3 L721.6 806.5 L722.6 801.7 L723.4 796.4 L723.6 796.1 L724.5 790.0 L724.6 790.4 L725.6 786.7 L725.7 785.9 L726.6 788.9 L726.9 789.9 L727.6 793.6 L728.0 795.1 L728.6 798.5 L729.6 801.9 L730.6 803.9 L731.6 804.5 L732.6 805.8 L733.6 803.8 L734.6 802.3 L735.1 799.3 L735.6 797.9 L736.1 795.6 L736.6 793.7 L737.1 793.3 L737.6 794.4 L738.1 797.3 L738.6 799.4 L739.1 801.8 L739.6 804.9 L740.6 807.9 L741.6 810.2 L742.6 811.7 L743.6 813.3 L744.6 813.0 L745.6 813.5 L746.6 813.7 L747.6 813.6 L748.6 814.5 L749.6 814.4 L750.6 813.7 L751.6 813.7 L752.6 814.3 L753.6 813.9 L754.6 814.4 L755.6 814.8 L756.6 814.5 L757.6 814.7 L758.6 814.4 L759.6 814.3 L760.6 814.2 L761.6 815.3 L762.6 814.4 L763.6 814.8 L764.6 814.9 L765.6 815.1 L766.6 814.7 L767.6 814.2 L768.6 815.9 L769.6 814.5 L770.6 815.3 L771.6 814.5 L772.6 815.3 L773.6 814.6 L774.6 815.8 L775.6 815.3 L776.6 814.4 L777.6 815.9 L778.6 814.2 L779.6 814.9 L780.6 815.6 L781.6 814.9 L782.6 815.7 L783.6 815.1 L784.6 814.8 L785.6 815.7 L786.6 815.1 L787.6 814.9 L788.6 815.6 L789.6 815.0 L790.6 814.5 L791.6 814.8 L792.6 816.3 L793.6 816.2 L794.6 814.4 L795.6 815.5 L796.6 815.7 L797.6 815.0 L798.6 815.4 L799.6 814.7 L800.6 815.0 L801.6 815.6 L802.6 815.1 L803.6 815.1 L804.6 815.0 L805.6 814.5 L806.6 814.7 L807.6 814.9 L808.6 815.1 L809.6 814.7 L810.6 816.0 L811.6 814.3 L812.6 814.6 L813.6 814.8 L814.6 815.4 L815.6 814.5 L816.6 815.3 L817.6 814.7 L818.6 814.8 L819.6 815.3 L820.6 815.5 L821.6 815.6 L822.6 814.6 L823.6 815.6 L824.6 815.6 L825.6 815.3 L826.6 815.4 L827.6 815.2 L828.6 815.1 L829.6 815.6 L830.6 815.9 L831.6 815.0 L832.6 815.3 L833.6 815.6 L834.6 814.5 L835.6 815.9 L836.6 815.3 L837.6 815.8 L838.6 815.0 L839.6 814.8 L840.6 815.1 L841.6 815.3 L842.6 814.7 L843.6 815.6 L844.6 815.3 L845.6 814.7 L846.6 815.4 L847.6 815.1 L848.6 815.2 L849.6 815.0 L850.6 814.9 L851.6 814.6 L852.6 815.2 L853.6 815.2 L854.6 815.4 L855.6 814.9 L856.6 815.4 L857.6 815.6 L858.6 814.7 L859.6 815.3 L860.6 816.2 L861.6 815.0 L862.6 815.0 L863.6 815.2 L864.6 814.9 L865.6 815.6 L866.6 815.1 L867.6 815.1 L868.6 814.8 L869.6 815.4 L870.6 815.1 L871.6 815.0 L872.6 815.0 L873.6 815.9 L874.6 815.2 L875.6 815.3 L876.6 815.8 L877.6 815.1 L878.6 815.6 L879.6 814.7 L880.6 815.5 L881.6 814.2 L882.6 815.2 L883.6 815.0 L884.6 814.8 L885.6 815.7 L886.6 815.5 L887.6 815.6 L888.6 815.9 L889.6 815.4 L890.6 815.4 L891.6 815.1 L892.6 816.0 L893.6 815.6 L894.6 814.8 L895.6 814.8 L896.6 814.8 L897.6 814.8 L898.6 815.8 L899.6 815.3 L900.6 815.6 L901.6 814.8 L902.6 814.8 L903.6 815.7 L904.6 814.2 L905.6 814.6 L906.6 814.2 L907.6 814.8 L908.6 816.3 L909.6 814.8 L910.6 815.6 L911.6 815.9 L912.6 814.8 L913.6 814.8 L914.6 815.3 L915.6 815.4 L916.6 814.4 L917.6 814.7 L918.6 815.8 L919.6 814.7 L920.6 815.3 L921.6 815.5 L922.6 814.9 L923.6 815.0 L924.6 814.8 L925.6 814.7 L926.6 814.8 L927.6 814.3 L928.6 814.8 L929.6 814.9 L930.6 815.3 L931.6 814.8 L932.6 814.7 L933.6 815.8 L934.6 814.9 L935.6 814.8 L936.6 814.7 L937.6 814.9 L938.6 814.5 L939.6 814.6 L940.6 814.5 L941.6 814.3 L942.6 814.6 L943.6 814.1 L944.6 815.5 L945.6 814.2 L946.6 815.4 L947.6 814.7 L948.6 814.9 L949.6 815.0 L950.6 813.5 L951.6 814.8 L952.6 814.0 L953.6 813.3 L954.6 812.8 L955.6 812.9 L956.6 811.5 L957.6 812.5 L958.6 811.1 L959.6 810.9 L960.6 810.1 L961.6 809.3 L962.6 809.0 L963.6 808.5 L964.6 809.4 L965.6 809.0 L966.6 809.6 L967.6 810.0 L968.6 810.6 L969.6 811.1 L970.6 812.0 L971.6 811.7 L972.6 812.0 L973.6 812.8 L974.6 813.1 L975.6 813.6 L976.6 814.3 L977.6 814.4 L978.6 814.4 L979.6 813.9 L980.6 814.5 L981.6 814.4 L982.6 814.7 L983.6 814.4 L984.6 814.3 L985.6 814.5 L986.6 814.1 L987.6 814.1 L988.6 814.6 L989.6 814.5 L990.6 814.9 L991.6 814.5 L992.6 814.0 L993.6 815.1 L994.6 815.2 L995.6 814.0 L996.6 814.2 L997.6 814.9 L998.6 814.5 L999.6 813.8 L1000.6 815.0 L1001.6 814.5 L1002.6 814.6 L1003.6 815.0 L1004.6 814.1 L1005.6 814.1 L1006.6 814.7 L1007.6 814.8 L1008.6 814.4 L1009.6 814.9 L1010.6 814.6 L1011.6 814.9 L1012.6 814.0 L1013.6 814.3 L1014.6 814.8 L1015.6 814.0 L1016.6 814.0 L1017.6 814.4 L1018.6 814.2 L1019.6 813.9 L1020.6 813.6 L1021.6 814.9 L1022.6 814.3 L1023.6 814.9 L1024.6 813.9 L1025.6 814.3 L1026.6 814.2 L1027.6 814.3 L1028.6 813.6 L1029.6 814.8 L1030.6 814.1 L1031.6 814.3 L1032.6 813.8 L1033.6 814.9 L1034.6 813.5 L1035.6 815.1 L1036.6 814.0 L1037.6 814.0 L1038.6 813.9 L1039.6 814.8 L1040.6 813.8 L1041.6 813.8 L1042.6 813.8 L1043.6 814.4 L1044.6 814.4 L1045.6 813.8 L1046.6 814.4 L1047.6 814.8 L1048.6 814.5 L1049.6 814.3 L1050.6 813.7 L1051.6 814.8 L1052.6 814.4 L1053.6 813.5 L1054.6 813.8 L1055.6 812.9 L1056.6 814.4 L1057.6 813.6 L1058.6 814.0 L1059.6 814.7 L1060.6 813.5 L1061.6 814.5 L1062.6 814.0 L1063.6 813.6 L1064.6 814.7 L1065.6 814.3 L1066.6 813.8 L1067.6 814.3 L1068.6 813.8 L1069.6 813.7 L1070.6 813.9 L1071.6 814.5 L1072.6 813.4 L1073.6 813.5 L1074.6 814.5 L1075.6 813.4 L1076.6 814.0 L1077.6 813.9 L1078.6 813.5 L1079.6 813.7 L1080.6 814.0 L1081.6 814.0 L1082.6 814.3 L1083.6 814.1 L1084.6 814.4 L1085.6 814.1 L1086.6 813.8 L1087.6 814.3 L1088.6 814.2 L1089.6 814.4 L1090.6 813.9 L1091.6 813.9 L1092.6 813.9 L1093.6 813.3 L1094.6 814.1 L1095.6 813.6 L1096.6 813.5 L1097.6 813.6 L1098.6 814.7 L1099.6 813.3 L1100.6 814.2 L1101.6 812.5 L1102.6 813.1 L1103.6 813.8 L1104.6 812.6 L1105.6 812.2 L1106.6 811.2 L1107.6 809.8 L1108.6 810.0 L1109.6 809.1 L1110.6 808.1 L1111.6 807.3 L1112.6 805.4 L1113.6 804.9 L1114.6 803.2 L1115.6 803.9 L1116.6 804.5 L1117.6 805.6 L1118.6 806.8 L1119.6 807.6 L1120.6 808.0 L1121.6 808.4 L1122.6 808.9 L1123.6 809.1 L1124.6 809.1 L1125.6 809.1 L1126.6 807.8 L1127.6 806.4 L1128.6 805.9 L1129.6 807.3 L1130.6 806.5 L1131.6 806.0 L1132.6 806.9 L1133.6 808.4 L1134.6 809.3 L1135.6 810.4 L1136.6 810.3 L1137.6 811.3 L1138.6 812.6 L1139.6 813.3 L1140.6 813.5 L1141.6 814.3 L1142.6 813.8 L1143.6 814.0 L1144.6 814.0 L1145.6 814.4 L1146.6 813.8 L1147.6 815.0 L1148.6 813.6 L1149.6 814.5 L1150.6 814.5 L1151.6 814.9 L1152.6 813.7 L1153.6 813.8 L1154.6 814.1 L1155.6 814.6 L1156.6 814.6 L1157.6 813.1 L1158.6 814.1 L1159.6 814.3 L1160.6 814.4 L1161.6 814.4 L1162.6 814.1 L1163.6 814.2 L1164.6 813.2 L1165.6 814.3 L1166.6 812.7 L1167.6 813.3 L1168.6 812.5 L1169.6 812.4 L1170.6 811.0 L1171.6 810.9 L1172.6 809.8 L1173.6 809.4 L1174.6 809.5 L1175.6 809.9 L1176.6 810.1 L1177.6 811.5 L1178.6 812.2 L1179.6 813.1 L1180.6 813.4 L1181.6 812.6 L1182.6 813.8 L1183.6 814.1 L1184.6 814.0 L1185.6 814.0 L1186.6 814.4 L1187.6 814.0 L1188.6 814.7 L1189.6 815.0 L1190.6 814.4 L1191.6 814.8 L1192.6 813.9 L1193.6 814.0 L1194.6 814.3 L1195.6 814.0 L1196.6 814.5 L1197.6 814.5 L1198.6 815.2 L1199.6 814.3 L1200.6 815.1 L1201.6 814.0 L1202.6 814.4 L1203.6 814.9 L1204.6 814.7 L1205.6 813.4 L1206.6 814.5 L1207.6 814.7 L1208.6 813.9 L1209.6 814.3 L1210.6 814.4 L1211.6 814.7 L1212.6 815.1 L1213.6 813.9 L1214.6 814.1 L1215.6 815.2 L1216.6 815.1 L1217.6 815.3 L1218.6 814.5 L1219.6 815.0 L1220.6 813.5 L1221.6 814.7 L1222.6 814.1 L1223.6 813.9 L1224.6 814.1 L1225.6 815.0 L1226.6 815.2 L1227.6 814.3 L1228.6 814.4 L1229.6 815.1 L1230.6 814.2 L1231.6 814.6 L1232.6 814.8 L1233.6 815.1 L1234.6 814.4 L1235.6 813.3 L1236.6 814.4 L1237.6 814.8 L1238.6 814.3 L1239.6 814.3 L1240.6 814.1 L1241.6 814.7 L1242.6 814.6 L1243.6 814.6 L1244.6 814.5 L1245.6 815.1 L1246.6 814.7 L1247.6 814.5 L1248.6 814.0 L1249.6 814.3 L1250.6 814.5 L1251.6 815.2 L1252.6 814.7 L1253.6 814.4 L1254.6 814.8 L1255.6 814.8 L1256.6 814.3 L1257.6 814.7 L1258.6 814.0 L1259.6 814.5 L1260.6 815.4 L1261.6 814.9 L1262.6 814.8 L1263.6 814.9 L1264.6 814.8 L1265.6 813.9 L1266.6 814.3 L1267.6 814.2 L1268.6 814.7 L1269.6 814.9 L1270.6 815.3 L1271.6 814.4 L1272.6 813.9 L1273.6 814.6 L1274.6 814.4 L1275.6 814.5 L1276.6 814.4 L1277.6 814.6 L1278.6 814.1 L1279.6 814.5 L1280.6 814.8 L1281.6 814.4 L1282.6 814.6 L1283.6 814.1 L1284.6 814.7 L1285.6 814.3 L1286.6 814.0 L1287.6 814.1 L1288.6 814.0 L1289.6 814.1 L1290.6 813.8 L1291.6 814.7 L1292.6 814.2 L1293.6 813.8 L1294.6 813.5 L1295.6 812.9 L1296.6 813.0 L1297.6 812.1 L1298.6 811.8 L1299.6 811.0 L1300.6 811.5 L1301.6 811.2 L1302.6 811.1 L1303.6 811.1 L1304.6 809.8 L1305.6 811.2 L1306.6 811.9 L1307.6 812.1 L1308.6 811.6 L1309.6 812.8 L1310.6 813.3 L1311.6 813.1 L1312.6 813.0 L1313.6 813.5 L1314.6 812.6 L1315.6 814.1 L1316.6 813.6 L1317.6 813.9 L1318.6 814.0 L1319.6 814.1 L1320.6 814.8 L1321.6 813.8 L1322.6 814.0 L1323.6 813.2 L1324.6 813.9 L1325.6 813.3 L1326.6 814.5 L1327.6 814.1 L1328.6 813.9 L1329.6 814.5 L1330.6 813.7 L1331.6 814.1 L1332.6 813.8 L1333.6 813.7 L1334.6 814.0 L1335.6 813.9 L1336.6 814.1 L1337.6 813.6 L1338.6 813.4 L1339.6 814.7" fill="none" stroke="#2a2a2a" stroke-width="4.6" stroke-linejoin="round" stroke-linecap="round"/><path d="M338.6 920.6 L339.6 920.7 L340.6 921.3 L341.6 921.1 L342.6 922.1 L343.6 921.7 L344.6 922.9 L345.6 923.2 L346.6 923.4 L347.6 924.1 L348.6 924.1 L349.6 925.2 L350.6 925.1 L351.6 924.5 L352.6 925.1 L353.6 926.6 L354.6 926.0 L355.6 926.7 L356.6 926.6 L357.6 927.9 L358.6 928.0 L359.6 928.2 L360.6 928.0 L361.6 928.4 L362.6 929.5 L363.6 929.0 L364.6 928.6 L365.6 930.6 L366.6 930.6 L367.6 930.0 L368.6 931.0 L369.6 931.5 L370.6 931.6 L371.6 932.6 L372.6 932.7 L373.6 932.1 L374.6 932.7 L375.6 933.5 L376.6 933.8 L377.6 933.6 L378.6 934.5 L379.6 934.0 L380.6 935.0 L381.6 934.1 L382.6 935.4 L383.6 936.4 L384.6 936.4 L385.6 935.7 L386.6 935.0 L387.6 936.7 L388.6 937.3 L389.6 937.1 L390.6 937.4 L391.6 936.9 L392.6 937.6 L393.6 937.5 L394.6 937.7 L395.6 938.3 L396.6 939.4 L397.6 939.2 L398.6 938.9 L399.6 939.4 L400.6 939.3 L401.6 939.7 L402.6 940.2 L403.6 939.7 L404.6 940.7 L405.6 940.5 L406.6 941.5 L407.6 940.8 L408.6 941.5 L409.6 941.3 L410.6 942.1 L411.6 941.3 L412.6 942.1 L413.6 942.1 L414.6 942.0 L415.6 942.8 L416.6 943.0 L417.6 943.1 L418.6 943.1 L419.6 943.4 L420.6 943.6 L421.6 944.6 L422.6 944.6 L423.6 945.1 L424.6 945.2 L425.6 945.8 L426.6 945.2 L427.6 945.5 L428.6 945.6 L429.6 945.6 L430.6 946.3 L431.6 946.4 L432.6 946.6 L433.6 946.7 L434.6 947.3 L435.6 946.4 L436.6 947.5 L437.6 947.5 L438.6 947.4 L439.6 947.7 L440.6 948.2 L441.6 948.6 L442.6 948.2 L443.6 948.8 L444.6 948.7 L445.6 949.1 L446.6 949.2 L447.6 949.2 L448.6 948.9 L449.6 948.6 L450.6 949.8 L451.6 948.9 L452.6 949.8 L453.6 949.5 L454.6 950.3 L455.6 949.6 L456.6 949.6 L457.6 948.9 L458.6 950.2 L459.6 950.0 L460.6 949.8 L461.6 949.9 L462.6 950.7 L463.6 950.4 L464.6 950.7 L465.6 950.3 L466.6 950.6 L467.6 950.9 L468.6 950.4 L469.6 951.2 L470.6 950.6 L471.6 951.6 L472.6 950.5 L473.6 950.6 L474.6 950.9 L475.6 950.7 L476.6 950.8 L477.6 950.8 L478.6 951.0 L479.6 949.2 L480.2 948.7 L480.6 947.7 L480.8 947.0 L481.4 946.2 L481.6 947.2 L482.0 945.8 L482.6 948.1 L483.6 950.1 L484.6 951.1 L485.6 951.2 L486.6 951.7 L487.6 951.7 L488.6 952.0 L489.6 951.3 L490.6 951.8 L491.6 952.4 L492.6 951.4 L493.6 951.8 L494.6 951.2 L495.6 952.0 L496.6 951.5 L497.6 952.2 L498.6 951.5 L499.6 952.0 L500.6 951.6 L501.6 952.1 L502.6 952.3 L503.6 953.1 L504.6 952.4 L505.6 952.4 L506.6 953.0 L507.6 952.7 L508.6 951.8 L509.6 952.6 L510.6 952.4 L511.6 952.7 L512.6 952.6 L513.6 951.7 L514.6 952.2 L515.6 953.3 L516.6 952.9 L517.6 952.1 L518.6 952.3 L519.6 952.4 L520.6 952.0 L521.6 951.1 L522.6 952.8 L523.6 952.2 L524.6 952.3 L525.6 952.3 L526.6 952.5 L527.6 952.5 L528.6 953.4 L529.6 952.6 L530.6 953.0 L531.6 952.7 L532.6 953.3 L533.6 952.8 L534.6 951.9 L535.6 953.6 L536.6 953.5 L537.6 953.1 L538.6 952.1 L539.6 953.4 L540.6 953.0 L541.6 952.5 L542.6 952.6 L543.6 953.4 L544.6 952.6 L545.6 952.8 L546.6 952.6 L547.6 953.1 L548.6 952.5 L549.6 953.2 L550.6 952.8 L551.6 953.9 L552.6 952.7 L553.6 953.0 L554.6 953.4 L555.6 953.4 L556.6 952.3 L557.6 953.1 L558.6 953.2 L559.6 953.3 L560.6 952.9 L561.6 953.7 L562.6 953.7 L563.6 952.9 L564.6 952.6 L565.6 953.0 L566.6 953.3 L567.6 953.6 L568.6 952.6 L569.6 952.8 L570.6 952.2 L571.6 952.7 L572.6 953.6 L573.6 954.1 L574.6 953.5 L575.6 953.1 L576.6 953.0 L577.6 954.0 L578.6 953.7 L579.6 953.2 L580.6 952.7 L581.6 952.3 L582.6 951.8 L583.1 951.9 L583.6 950.2 L583.7 950.0 L584.3 949.9 L584.6 949.8 L584.9 950.6 L585.5 950.7 L585.6 951.3 L586.6 952.1 L587.6 953.3 L588.6 953.1 L589.6 952.8 L590.6 952.9 L591.6 953.2 L592.6 953.9 L593.6 953.5 L594.6 953.4 L595.6 952.8 L596.6 952.6 L597.6 952.6 L598.6 953.0 L599.6 953.4 L600.6 953.3 L601.6 953.8 L602.6 952.8 L603.6 953.2 L604.6 953.2 L605.6 952.9 L606.6 952.3 L607.6 953.0 L608.6 953.7 L609.6 952.5 L610.6 953.7 L611.6 953.7 L612.6 953.3 L613.6 953.5 L614.6 953.3 L615.6 953.4 L616.6 954.0 L617.6 953.9 L618.6 953.9 L619.6 953.5 L620.6 953.4 L621.6 953.5 L622.6 952.8 L623.6 953.0 L624.6 953.5 L625.6 952.6 L626.6 953.4 L627.6 953.4 L628.6 953.3 L629.6 953.4 L630.6 953.1 L631.6 954.3 L632.6 952.5 L633.6 953.1 L634.6 952.6 L635.6 953.5 L636.6 953.8 L637.6 954.2 L638.6 953.0 L639.6 953.6 L640.6 952.9 L641.6 953.3 L642.6 953.6 L643.6 952.6 L644.6 953.2 L645.6 952.9 L646.6 953.4 L647.6 953.5 L648.6 952.5 L649.6 953.0 L650.6 952.4 L651.6 951.9 L652.6 952.4 L653.6 952.5 L654.6 952.1 L655.6 952.0 L656.6 952.7 L657.6 951.8 L658.6 951.5 L659.6 950.4 L660.6 947.1 L661.6 927.3 L662.1 893.0 L662.5 855.0 L662.6 851.0 L663.0 835.5 L663.5 853.8 L663.6 865.3 L663.9 890.1 L664.6 928.6 L665.6 934.9 L666.2 930.9 L666.6 927.6 L666.9 925.1 L667.6 922.2 L668.3 926.9 L668.6 929.7 L669.0 935.0 L669.6 940.2 L670.6 947.1 L671.6 948.9 L672.6 950.9 L673.6 952.0 L674.6 951.9 L675.6 952.4 L676.6 952.3 L677.6 952.0 L678.6 952.1 L679.6 951.4 L680.6 949.9 L681.6 946.6 L682.4 944.0 L682.6 942.4 L683.2 942.9 L683.6 942.8 L684.0 943.9 L684.6 946.5 L684.8 946.9 L685.6 949.4 L686.6 950.7 L687.6 952.1 L688.6 952.1 L689.6 952.2 L690.6 951.9 L691.6 952.1 L692.6 949.7 L693.6 948.5 L693.7 948.3 L694.6 946.7 L694.7 946.3 L695.6 944.8 L695.7 945.1 L696.6 946.6 L696.7 946.6 L697.6 947.9 L697.7 948.3 L698.6 950.0 L699.6 952.0 L700.6 951.9 L701.6 953.1 L702.6 953.4 L703.6 952.7 L704.6 953.8 L705.6 952.8 L706.6 952.8 L707.6 953.3 L708.6 952.7 L709.6 953.0 L710.6 952.4 L711.6 952.8 L712.6 953.0 L713.6 952.3 L714.6 953.2 L715.6 953.2 L716.6 952.7 L717.6 953.0 L718.6 952.9 L719.6 952.1 L720.6 952.4 L721.6 951.8 L722.6 950.6 L723.6 949.2 L724.6 945.2 L725.5 939.9 L725.6 940.8 L726.6 934.6 L726.8 934.1 L727.6 929.5 L728.1 929.1 L728.6 928.6 L729.4 931.1 L729.6 932.4 L730.6 937.4 L730.7 937.8 L731.6 941.5 L732.6 943.2 L733.6 941.8 L734.6 939.9 L735.5 937.6 L735.6 936.9 L736.6 931.5 L737.6 929.6 L737.7 930.9 L738.6 932.1 L738.8 934.0 L739.6 937.1 L739.9 939.6 L740.6 943.0 L741.6 947.6 L742.6 950.6 L743.6 951.6 L744.6 952.6 L745.6 953.1 L746.6 953.6 L747.6 953.2 L748.6 952.3 L749.6 952.6 L750.6 953.8 L751.6 953.8 L752.6 954.1 L753.6 953.5 L754.6 953.5 L755.6 952.9 L756.6 953.3 L757.6 953.7 L758.6 953.5 L759.6 953.1 L760.6 954.6 L761.6 953.9 L762.6 954.1 L763.6 954.0 L764.6 954.0 L765.6 953.5 L766.6 954.4 L767.6 953.8 L768.6 953.6 L769.6 954.7 L770.6 954.2 L771.6 954.4 L772.6 953.3 L773.6 954.9 L774.6 953.8 L775.6 953.7 L776.6 954.0 L777.6 953.8 L778.6 953.8 L779.6 954.4 L780.6 954.9 L781.6 954.1 L782.6 954.2 L783.6 954.3 L784.6 954.3 L785.6 953.7 L786.6 955.0 L787.6 953.6 L788.6 954.0 L789.6 955.2 L790.6 954.2 L791.6 953.8 L792.6 954.3 L793.6 955.3 L794.6 954.3 L795.6 953.8 L796.6 954.4 L797.6 954.4 L798.6 953.9 L799.6 954.4 L800.6 953.3 L801.6 954.5 L802.6 954.4 L803.6 954.4 L804.6 954.1 L805.6 955.0 L806.6 954.7 L807.6 955.0 L808.6 954.1 L809.6 954.7 L810.6 955.2 L811.6 955.0 L812.6 954.0 L813.6 954.4 L814.6 954.1 L815.6 954.2 L816.6 954.4 L817.6 955.2 L818.6 955.1 L819.6 954.3 L820.6 954.8 L821.6 954.1 L822.6 953.8 L823.6 953.5 L824.6 954.0 L825.6 955.3 L826.6 954.5 L827.6 954.7 L828.6 954.9 L829.6 953.5 L830.6 954.3 L831.6 954.4 L832.6 955.0 L833.6 954.6 L834.6 953.7 L835.6 953.6 L836.6 954.6 L837.6 954.5 L838.6 953.8 L839.6 953.8 L840.6 954.5 L841.6 953.8 L842.6 954.6 L843.6 954.3 L844.6 954.3 L845.6 955.3 L846.6 954.1 L847.6 953.9 L848.6 954.2 L849.6 953.3 L850.6 954.8 L851.6 954.7 L852.6 954.5 L853.6 954.4 L854.6 954.4 L855.6 953.7 L856.6 954.4 L857.6 954.4 L858.6 954.8 L859.6 954.6 L860.6 954.9 L861.6 954.7 L862.6 953.5 L863.6 954.1 L864.6 954.7 L865.6 954.2 L866.6 954.4 L867.6 954.8 L868.6 954.0 L869.6 954.5 L870.6 955.2 L871.6 954.5 L872.6 954.1 L873.6 954.5 L874.6 954.3 L875.6 953.9 L876.6 954.7 L877.6 954.5 L878.6 953.6 L879.6 955.0 L880.6 954.0 L881.6 954.5 L882.6 954.7 L883.6 954.4 L884.6 953.9 L885.6 953.4 L886.6 954.2 L887.6 954.6 L888.6 953.9 L889.6 954.3 L890.6 955.0 L891.6 954.0 L892.6 956.3 L893.6 954.6 L894.6 953.9 L895.6 954.6 L896.6 954.3 L897.6 955.1 L898.6 953.9 L899.6 954.8 L900.6 954.0 L901.6 954.6 L902.6 955.1 L903.6 954.5 L904.6 955.1 L905.6 954.3 L906.6 954.9 L907.6 954.1 L908.6 954.3 L909.6 954.4 L910.6 953.8 L911.6 954.0 L912.6 954.2 L913.6 955.2 L914.6 954.5 L915.6 953.9 L916.6 953.9 L917.6 954.4 L918.6 953.9 L919.6 954.5 L920.6 953.9 L921.6 953.9 L922.6 954.7 L923.6 953.5 L924.6 955.4 L925.6 954.0 L926.6 953.7 L927.6 954.6 L928.6 954.8 L929.6 954.9 L930.6 954.5 L931.6 954.0 L932.6 954.2 L933.6 954.3 L934.6 954.7 L935.6 954.7 L936.6 954.6 L937.6 954.6 L938.6 953.2 L939.6 953.9 L940.6 954.7 L941.6 953.9 L942.6 954.1 L943.6 953.8 L944.6 954.0 L945.6 953.7 L946.6 953.0 L947.6 954.1 L948.6 954.0 L949.6 953.3 L950.6 952.6 L951.6 953.3 L952.6 952.6 L953.6 953.4 L954.6 952.4 L955.6 951.4 L956.6 951.3 L957.6 951.9 L958.6 950.3 L959.6 949.4 L960.6 948.9 L961.6 947.9 L962.6 948.2 L963.6 946.8 L964.6 947.4 L965.6 947.6 L966.6 947.8 L967.6 947.7 L968.6 948.1 L969.6 948.9 L970.6 949.7 L971.6 950.5 L972.6 950.8 L973.6 951.5 L974.6 951.7 L975.6 951.9 L976.6 953.2 L977.6 953.1 L978.6 953.5 L979.6 954.1 L980.6 953.1 L981.6 953.3 L982.6 953.4 L983.6 954.0 L984.6 953.0 L985.6 953.4 L986.6 954.1 L987.6 953.0 L988.6 954.1 L989.6 954.5 L990.6 954.0 L991.6 953.4 L992.6 953.6 L993.6 953.3 L994.6 953.7 L995.6 954.2 L996.6 954.2 L997.6 952.7 L998.6 953.4 L999.6 953.9 L1000.6 953.6 L1001.6 952.6 L1002.6 953.9 L1003.6 954.0 L1004.6 953.8 L1005.6 953.7 L1006.6 954.2 L1007.6 953.1 L1008.6 953.6 L1009.6 953.9 L1010.6 955.3 L1011.6 953.4 L1012.6 954.1 L1013.6 954.5 L1014.6 954.1 L1015.6 954.1 L1016.6 954.3 L1017.6 952.9 L1018.6 953.9 L1019.6 953.5 L1020.6 954.4 L1021.6 953.9 L1022.6 953.8 L1023.6 953.7 L1024.6 953.1 L1025.6 954.1 L1026.6 952.9 L1027.6 953.6 L1028.6 953.5 L1029.6 954.1 L1030.6 953.6 L1031.6 953.2 L1032.6 953.9 L1033.6 954.4 L1034.6 953.1 L1035.6 954.3 L1036.6 953.3 L1037.6 953.5 L1038.6 953.5 L1039.6 953.1 L1040.6 954.3 L1041.6 954.0 L1042.6 953.9 L1043.6 953.0 L1044.6 953.9 L1045.6 953.2 L1046.6 954.2 L1047.6 952.7 L1048.6 953.9 L1049.6 952.8 L1050.6 952.9 L1051.6 953.7 L1052.6 954.0 L1053.6 954.1 L1054.6 953.4 L1055.6 953.3 L1056.6 954.0 L1057.6 953.0 L1058.6 953.0 L1059.6 953.8 L1060.6 953.8 L1061.6 953.6 L1062.6 954.1 L1063.6 952.8 L1064.6 953.8 L1065.6 954.6 L1066.6 953.3 L1067.6 952.9 L1068.6 954.1 L1069.6 953.8 L1070.6 954.1 L1071.6 953.9 L1072.6 953.3 L1073.6 953.4 L1074.6 953.0 L1075.6 954.7 L1076.6 953.1 L1077.6 953.3 L1078.6 953.2 L1079.6 953.7 L1080.6 954.2 L1081.6 953.3 L1082.6 953.7 L1083.6 953.8 L1084.6 954.5 L1085.6 953.4 L1086.6 953.6 L1087.6 954.2 L1088.6 952.8 L1089.6 953.4 L1090.6 953.5 L1091.6 952.9 L1092.6 953.3 L1093.6 953.5 L1094.6 953.9 L1095.6 953.7 L1096.6 953.0 L1097.6 952.8 L1098.6 953.7 L1099.6 952.5 L1100.6 952.9 L1101.6 952.5 L1102.6 952.2 L1103.6 952.9 L1104.6 951.9 L1105.6 951.9 L1106.6 952.4 L1107.6 952.0 L1108.6 950.0 L1109.6 949.4 L1110.6 948.5 L1111.6 947.3 L1112.6 947.4 L1113.6 946.2 L1114.6 945.1 L1115.6 943.7 L1116.6 944.2 L1117.6 944.0 L1118.6 944.3 L1119.6 945.2 L1120.6 946.4 L1121.6 946.5 L1122.6 947.0 L1123.6 947.1 L1124.6 948.3 L1125.6 947.7 L1126.6 945.9 L1127.6 946.5 L1128.6 946.1 L1129.6 944.5 L1130.6 944.3 L1131.6 945.7 L1132.6 945.7 L1133.6 946.1 L1134.6 947.9 L1135.6 949.2 L1136.6 949.6 L1137.6 950.5 L1138.6 951.6 L1139.6 952.1 L1140.6 953.3 L1141.6 953.3 L1142.6 953.1 L1143.6 952.7 L1144.6 952.8 L1145.6 952.2 L1146.6 953.2 L1147.6 953.1 L1148.6 953.0 L1149.6 953.7 L1150.6 953.9 L1151.6 952.5 L1152.6 953.6 L1153.6 953.6 L1154.6 953.1 L1155.6 953.1 L1156.6 954.2 L1157.6 953.7 L1158.6 954.4 L1159.6 953.0 L1160.6 952.9 L1161.6 953.2 L1162.6 953.7 L1163.6 953.8 L1164.6 953.9 L1165.6 952.5 L1166.6 951.7 L1167.6 952.3 L1168.6 951.6 L1169.6 950.7 L1170.6 950.4 L1171.6 948.9 L1172.6 948.4 L1173.6 950.4 L1174.6 950.2 L1175.6 950.6 L1176.6 951.9 L1177.6 953.2 L1178.6 952.7 L1179.6 953.7 L1180.6 953.2 L1181.6 954.2 L1182.6 953.5 L1183.6 954.0 L1184.6 953.5 L1185.6 953.8 L1186.6 953.6 L1187.6 953.4 L1188.6 953.6 L1189.6 953.9 L1190.6 953.5 L1191.6 953.3 L1192.6 953.8 L1193.6 954.3 L1194.6 953.6 L1195.6 953.2 L1196.6 953.2 L1197.6 953.6 L1198.6 954.4 L1199.6 953.2 L1200.6 954.2 L1201.6 953.5 L1202.6 953.3 L1203.6 953.4 L1204.6 954.2 L1205.6 953.4 L1206.6 954.3 L1207.6 954.6 L1208.6 953.2 L1209.6 953.1 L1210.6 952.8 L1211.6 953.9 L1212.6 953.2 L1213.6 953.4 L1214.6 953.3 L1215.6 954.3 L1216.6 954.0 L1217.6 953.9 L1218.6 952.9 L1219.6 953.3 L1220.6 953.6 L1221.6 953.6 L1222.6 953.8 L1223.6 954.4 L1224.6 954.0 L1225.6 954.0 L1226.6 953.6 L1227.6 953.5 L1228.6 953.4 L1229.6 953.6 L1230.6 952.9 L1231.6 953.4 L1232.6 953.7 L1233.6 953.4 L1234.6 953.6 L1235.6 952.8 L1236.6 953.4 L1237.6 953.6 L1238.6 954.2 L1239.6 953.7 L1240.6 953.5 L1241.6 953.4 L1242.6 953.7 L1243.6 953.4 L1244.6 954.0 L1245.6 953.4 L1246.6 953.9 L1247.6 953.3 L1248.6 953.0 L1249.6 953.0 L1250.6 954.0 L1251.6 953.4 L1252.6 953.4 L1253.6 954.8 L1254.6 953.1 L1255.6 953.6 L1256.6 953.0 L1257.6 953.3 L1258.6 953.9 L1259.6 953.5 L1260.6 954.5 L1261.6 953.2 L1262.6 953.3 L1263.6 953.0 L1264.6 953.6 L1265.6 953.2 L1266.6 953.5 L1267.6 953.2 L1268.6 953.8 L1269.6 953.3 L1270.6 953.6 L1271.6 953.5 L1272.6 953.2 L1273.6 953.6 L1274.6 953.6 L1275.6 953.8 L1276.6 952.7 L1277.6 954.2 L1278.6 953.6 L1279.6 953.8 L1280.6 953.8 L1281.6 952.9 L1282.6 953.9 L1283.6 953.7 L1284.6 953.3 L1285.6 953.9 L1286.6 953.4 L1287.6 953.0 L1288.6 953.8 L1289.6 953.7 L1290.6 953.4 L1291.6 953.1 L1292.6 953.7 L1293.6 952.6 L1294.6 952.7 L1295.6 952.2 L1296.6 951.9 L1297.6 951.8 L1298.6 950.7 L1299.6 951.0 L1300.6 950.5 L1301.6 950.0 L1302.6 949.7 L1303.6 949.5 L1304.6 950.3 L1305.6 951.3 L1306.6 950.6 L1307.6 950.9 L1308.6 951.4 L1309.6 952.2 L1310.6 952.6 L1311.6 952.8 L1312.6 952.9 L1313.6 952.5 L1314.6 953.7 L1315.6 953.1 L1316.6 953.5 L1317.6 953.4 L1318.6 953.4 L1319.6 953.8 L1320.6 953.6 L1321.6 954.4 L1322.6 954.2 L1323.6 953.9 L1324.6 953.4 L1325.6 953.9 L1326.6 953.7 L1327.6 953.9 L1328.6 953.6 L1329.6 953.1 L1330.6 953.1 L1331.6 953.5 L1332.6 954.0 L1333.6 953.5 L1334.6 953.3 L1335.6 953.5 L1336.6 953.9 L1337.6 953.4 L1338.6 953.3 L1339.6 953.6" fill="none" stroke="#2a2a2a" stroke-width="4.6" stroke-linejoin="round" stroke-linecap="round"/>
<circle cx="646.6" cy="114.9" r="9.7" fill="#fff" stroke="#231f20" stroke-width="1.9"/><path d="M636.9 114.9L656.3 114.9M646.6 105.2L646.6 124.6" stroke="#231f20" stroke-width="1.6"/><path d="M680.0 150.8L687.2 159.0L680.0 167.2L672.8 159.0Z" fill="#231f20"/><path d="M700.3 159.4L707.5 167.7L700.3 175.9L693.0 167.7Z" fill="#231f20"/><circle cx="721.0" cy="146.4" r="9.7" fill="#fff" stroke="#231f20" stroke-width="1.9"/><path d="M711.3 146.4L730.7 146.4M721.0 136.7L721.0 156.1" stroke="#231f20" stroke-width="1.6"/><path d="M744.00 139.80L735.00 121.50L753.00 121.50Z" fill="#fff"/><path d="M744.00 139.80L735.00 121.50L753.00 121.50ZM745.06 134.25L740.07 124.10L750.05 124.10Z" fill="#231f20" fill-rule="evenodd"/><circle cx="743.5" cy="155.0" r="9.7" fill="#fff" stroke="#231f20" stroke-width="1.9"/><path d="M733.8 155.0L753.2 155.0M743.5 145.3L743.5 164.7" stroke="#231f20" stroke-width="1.6"/><path d="M959.50 145.00L950.50 128.00L968.50 128.00Z" fill="#fff"/><path d="M959.50 145.00L950.50 128.00L968.50 128.00ZM960.57 139.76L955.72 130.60L965.43 130.60Z" fill="#231f20" fill-rule="evenodd"/><circle cx="962.5" cy="157.6" r="9.5" fill="#fff" stroke="#231f20" stroke-width="1.9"/><path d="M953.0 157.6L972.0 157.6M962.5 148.1L962.5 167.1" stroke="#231f20" stroke-width="1.6"/><circle cx="1120.0" cy="161.4" r="9.5" fill="#fff" stroke="#231f20" stroke-width="1.9"/><path d="M1110.5 161.4L1129.5 161.4M1120.0 151.9L1120.0 170.9" stroke="#231f20" stroke-width="1.6"/><path d="M1170.50 168.00L1161.50 150.00L1179.50 150.00Z" fill="#fff"/><path d="M1170.50 168.00L1161.50 150.00L1179.50 150.00ZM1171.56 162.52L1166.60 152.60L1176.52 152.60Z" fill="#231f20" fill-rule="evenodd"/><path d="M657.0 181.0L664.5 192.0L657.0 203.0L649.5 192.0Z" fill="#fff"/><path d="M657.0 181.0L664.5 192.0L657.0 203.0L649.5 192.0ZM657.0 185.4L661.5 192.0L657.0 198.6L652.5 192.0Z" fill="#231f20" fill-rule="evenodd"/><circle cx="677.4" cy="192.5" r="9.3" fill="#fff" stroke="#231f20" stroke-width="2.1"/><path d="M670.8 185.9L684.0 199.1M684.0 185.9L670.8 199.1" stroke="#231f20" stroke-width="1.8"/><circle cx="487.0" cy="272.9" r="9.6" fill="#fff" stroke="#231f20" stroke-width="2.0"/><text x="487.0" y="278.0" font-size="15.5" font-weight="bold" text-anchor="middle" class="s">R</text><path d="M480.5 284.3L488.0 295.0L480.5 305.7L473.0 295.0Z" fill="#fff"/><path d="M480.5 284.3L488.0 295.0L480.5 305.7L473.0 295.0ZM480.5 288.7L484.9 295.0L480.5 301.3L476.1 295.0Z" fill="#231f20" fill-rule="evenodd"/><circle cx="513.8" cy="276.7" r="9.6" fill="#fff" stroke="#231f20" stroke-width="2.0"/><text x="513.8" y="281.8" font-size="15.5" font-weight="bold" text-anchor="middle" class="s">C</text><circle cx="512.9" cy="306.2" r="9.3" fill="#fff" stroke="#231f20" stroke-width="2.1"/><path d="M506.3 299.6L519.5 312.8M519.5 299.6L506.3 312.8" stroke="#231f20" stroke-width="1.8"/><circle cx="620.5" cy="306.0" r="9.6" fill="#fff" stroke="#231f20" stroke-width="2.0"/><text x="620.5" y="311.1" font-size="15.5" font-weight="bold" text-anchor="middle" class="s">R</text><path d="M633.4 310.0L639.4 317.0L633.4 324.0L627.4 317.0Z" fill="#231f20"/><path d="M648.60 302.50L658.45 323.00L638.75 323.00ZM647.49 309.89L652.59 320.50L642.39 320.50Z" fill="#231f20" fill-rule="evenodd"/><path d="M685.7 291.9L693.0 300.2L685.7 308.4L678.5 300.2Z" fill="#231f20"/><circle cx="698.6" cy="304.0" r="5.6" fill="#231f20"/><path d="M701.0 287.4 C698.5 283.1 692.4 278.2 692.4 273.8 C692.4 270.3 694.6 268.9 696.6 268.9 C699.0 268.9 700.5 270.6 701.0 272.5 C701.5 270.6 703.0 268.9 705.4 268.9 C707.4 268.9 709.6 270.3 709.6 273.8 C709.6 278.2 703.5 283.1 701.0 287.4Z" fill="#231f20"/><circle cx="715.3" cy="307.0" r="9.6" fill="#fff" stroke="#231f20" stroke-width="2.0"/><text x="715.3" y="312.1" font-size="15.5" font-weight="bold" text-anchor="middle" class="s">C</text><circle cx="722.2" cy="222.0" r="9.3" fill="#fff" stroke="#231f20" stroke-width="2.1"/><path d="M715.6 215.4L728.8 228.6M728.8 215.4L715.6 228.6" stroke="#231f20" stroke-width="1.8"/><path d="M741.90 204.60L751.75 225.00L732.05 225.00ZM740.79 211.96L745.88 222.50L735.70 222.50Z" fill="#231f20" fill-rule="evenodd"/><path d="M721.4 234.9L728.6 246.3L721.4 257.7L714.1 246.3Z" fill="#fff"/><path d="M721.4 234.9L728.6 246.3L721.4 257.7L714.1 246.3ZM721.4 239.6L725.7 246.3L721.4 253.0L717.1 246.3Z" fill="#231f20" fill-rule="evenodd"/><circle cx="740.4" cy="241.8" r="5.6" fill="#231f20"/><circle cx="741.9" cy="266.0" r="9.3" fill="#fff" stroke="#231f20" stroke-width="2.1"/><path d="M735.3 259.4L748.5 272.6M748.5 259.4L735.3 272.6" stroke="#231f20" stroke-width="1.8"/><path d="M738.9 278.6L746.4 289.6L738.9 300.6L731.4 289.6Z" fill="#fff"/><path d="M738.9 278.6L746.4 289.6L738.9 300.6L731.4 289.6ZM738.9 283.0L743.4 289.6L738.9 296.2L734.4 289.6Z" fill="#231f20" fill-rule="evenodd"/><circle cx="869.0" cy="312.8" r="9.6" fill="#fff" stroke="#231f20" stroke-width="2.0"/><text x="869.0" y="317.9" font-size="15.5" font-weight="bold" text-anchor="middle" class="s">C</text><circle cx="952.9" cy="252.0" r="9.3" fill="#fff" stroke="#231f20" stroke-width="2.1"/><path d="M946.3 245.4L959.5 258.6M959.5 245.4L946.3 258.6" stroke="#231f20" stroke-width="1.8"/><circle cx="953.8" cy="279.0" r="5.6" fill="#231f20"/><path d="M955.1 292.2L962.6 303.2L955.1 314.2L947.6 303.2Z" fill="#fff"/><path d="M955.1 292.2L962.6 303.2L955.1 314.2L947.6 303.2ZM955.1 296.6L959.6 303.2L955.1 309.8L950.6 303.2Z" fill="#231f20" fill-rule="evenodd"/><path d="M979.50 227.60L989.35 248.60L969.65 248.60ZM978.40 235.14L983.54 246.10L973.25 246.10Z" fill="#231f20" fill-rule="evenodd"/><circle cx="979.5" cy="262.9" r="5.6" fill="#231f20"/><circle cx="980.5" cy="284.8" r="9.3" fill="#fff" stroke="#231f20" stroke-width="2.1"/><path d="M973.9 278.2L987.1 291.4M987.1 278.2L973.9 291.4" stroke="#231f20" stroke-width="1.8"/><path d="M978.0 297.6L985.5 308.6L978.0 319.6L970.5 308.6Z" fill="#fff"/><path d="M978.0 297.6L985.5 308.6L978.0 319.6L970.5 308.6ZM978.0 302.0L982.5 308.6L978.0 315.2L973.5 308.6Z" fill="#231f20" fill-rule="evenodd"/><circle cx="1102.9" cy="262.9" r="5.6" fill="#231f20"/><circle cx="1101.0" cy="281.9" r="9.3" fill="#fff" stroke="#231f20" stroke-width="2.1"/><path d="M1094.4 275.3L1107.6 288.5M1107.6 275.3L1094.4 288.5" stroke="#231f20" stroke-width="1.8"/><path d="M1104.2 293.8L1111.7 304.8L1104.2 315.8L1096.7 304.8Z" fill="#fff"/><path d="M1104.2 293.8L1111.7 304.8L1104.2 315.8L1096.7 304.8ZM1104.2 298.2L1108.7 304.8L1104.2 311.4L1099.7 304.8Z" fill="#231f20" fill-rule="evenodd"/><circle cx="1124.8" cy="249.5" r="5.6" fill="#231f20"/><circle cx="1126.7" cy="274.3" r="9.3" fill="#fff" stroke="#231f20" stroke-width="2.1"/><path d="M1120.1 267.7L1133.3 280.9M1133.3 267.7L1120.1 280.9" stroke="#231f20" stroke-width="1.8"/><path d="M1127.6 289.0L1135.1 300.0L1127.6 311.0L1120.1 300.0Z" fill="#fff"/><path d="M1127.6 289.0L1135.1 300.0L1127.6 311.0L1120.1 300.0ZM1127.6 293.4L1132.1 300.0L1127.6 306.6L1123.1 300.0Z" fill="#231f20" fill-rule="evenodd"/><circle cx="1178.1" cy="292.0" r="9.6" fill="#fff" stroke="#231f20" stroke-width="2.0"/><text x="1178.1" y="297.1" font-size="15.5" font-weight="bold" text-anchor="middle" class="s">R</text><path d="M1178.1 308.1L1178.1 320.5M1172.5 311.7L1183.7 316.9M1172.5 316.9L1183.7 311.7" stroke="#231f20" stroke-width="2.9"/><circle cx="476.7" cy="457.1" r="9.3" fill="#fff" stroke="#231f20" stroke-width="2.1"/><path d="M470.1 450.5L483.3 463.7M483.3 450.5L470.1 463.7" stroke="#231f20" stroke-width="1.8"/><circle cx="649.3" cy="346.7" r="9.3" fill="#fff" stroke="#231f20" stroke-width="2.1"/><path d="M642.7 340.1L655.9 353.3M655.9 340.1L642.7 353.3" stroke="#231f20" stroke-width="1.8"/><circle cx="674.0" cy="462.8" r="5.6" fill="#231f20"/><path d="M685.0 446.0L692.5 454.5L685.0 463.0L677.5 454.5Z" fill="#231f20"/><path d="M699.4 434.5L706.9 443.0L699.4 451.5L691.9 443.0Z" fill="#231f20"/><path d="M695.6 428.8 C693.1 424.4 687.0 419.5 687.0 415.1 C687.0 411.6 689.2 410.2 691.2 410.2 C693.6 410.2 695.1 411.9 695.6 413.8 C696.1 411.9 697.6 410.2 700.0 410.2 C702.0 410.2 704.2 411.6 704.2 415.1 C704.2 419.5 698.1 424.4 695.6 428.8Z" fill="#231f20"/><circle cx="694.4" cy="396.3" r="9.3" fill="#fff" stroke="#231f20" stroke-width="2.1"/><path d="M687.8 389.7L701.0 402.9M701.0 389.7L687.8 402.9" stroke="#231f20" stroke-width="1.8"/><circle cx="724.5" cy="415.4" r="9.3" fill="#fff" stroke="#231f20" stroke-width="2.1"/><path d="M717.9 408.8L731.1 422.0M731.1 408.8L717.9 422.0" stroke="#231f20" stroke-width="1.8"/><path d="M745.70 378.60L755.55 399.80L735.85 399.80ZM744.60 386.19L749.76 397.30L739.44 397.30Z" fill="#231f20" fill-rule="evenodd"/><path d="M745.7 408.0L745.7 420.4M740.1 411.6L751.3 416.8M740.1 416.8L751.3 411.6" stroke="#231f20" stroke-width="2.9"/><circle cx="745.0" cy="439.0" r="9.3" fill="#fff" stroke="#231f20" stroke-width="2.1"/><path d="M738.4 432.4L751.6 445.6M751.6 432.4L738.4 445.6" stroke="#231f20" stroke-width="1.8"/><circle cx="958.6" cy="416.8" r="5.6" fill="#231f20"/><path d="M959.5 426.6L959.5 439.0M953.9 430.2L965.1 435.4M953.9 435.4L965.1 430.2" stroke="#231f20" stroke-width="2.9"/><circle cx="959.5" cy="455.2" r="9.3" fill="#fff" stroke="#231f20" stroke-width="2.1"/><path d="M952.9 448.6L966.1 461.8M966.1 448.6L952.9 461.8" stroke="#231f20" stroke-width="1.8"/><path d="M985.20 430.50L995.05 451.40L975.35 451.40ZM984.09 438.01L989.23 448.90L978.96 448.90Z" fill="#231f20" fill-rule="evenodd"/><circle cx="983.3" cy="468.6" r="9.3" fill="#fff" stroke="#231f20" stroke-width="2.1"/><path d="M976.7 462.0L989.9 475.2M989.9 462.0L976.7 475.2" stroke="#231f20" stroke-width="1.8"/><circle cx="1111.4" cy="439.0" r="5.6" fill="#231f20"/><path d="M1126.7 428.1L1126.7 440.5M1121.1 431.7L1132.3 436.9M1121.1 436.9L1132.3 431.7" stroke="#231f20" stroke-width="2.9"/><circle cx="1106.7" cy="460.0" r="9.3" fill="#fff" stroke="#231f20" stroke-width="2.1"/><path d="M1100.1 453.4L1113.3 466.6M1113.3 453.4L1100.1 466.6" stroke="#231f20" stroke-width="1.8"/><circle cx="1128.2" cy="457.1" r="9.3" fill="#fff" stroke="#231f20" stroke-width="2.1"/><path d="M1121.6 450.5L1134.8 463.7M1134.8 450.5L1121.6 463.7" stroke="#231f20" stroke-width="1.8"/><path d="M1175.2 454.4L1175.2 466.8M1169.6 458.0L1180.8 463.2M1169.6 463.2L1180.8 458.0" stroke="#231f20" stroke-width="2.9"/><path d="M468.1 631.9L475.6 642.9L468.1 653.9L460.6 642.9Z" fill="#fff"/><path d="M468.1 631.9L475.6 642.9L468.1 653.9L460.6 642.9ZM468.1 636.3L472.6 642.9L468.1 649.5L463.6 642.9Z" fill="#231f20" fill-rule="evenodd"/><circle cx="496.1" cy="646.7" r="9.3" fill="#fff" stroke="#231f20" stroke-width="2.1"/><path d="M489.5 640.1L502.7 653.3M502.7 640.1L489.5 653.3" stroke="#231f20" stroke-width="1.8"/><circle cx="650.6" cy="498.2" r="9.3" fill="#fff" stroke="#231f20" stroke-width="2.1"/><path d="M644.0 491.6L657.2 504.8M657.2 491.6L644.0 504.8" stroke="#231f20" stroke-width="1.8"/><path d="M681.0 637.8L688.5 646.3L681.0 654.8L673.5 646.3Z" fill="#231f20"/><path d="M696.0 626.8L703.5 635.3L696.0 643.8L688.5 635.3Z" fill="#231f20"/><path d="M696.2 618.6 C693.7 614.3 687.6 609.4 687.6 605.0 C687.6 601.5 689.8 600.1 691.8 600.1 C694.2 600.1 695.7 601.8 696.2 603.7 C696.7 601.8 698.2 600.1 700.6 600.1 C702.6 600.1 704.9 601.5 704.9 605.0 C704.9 609.4 698.7 614.3 696.2 618.6Z" fill="#231f20"/><circle cx="693.8" cy="587.8" r="5.6" fill="#231f20"/><path d="M720.40 557.80L730.25 578.40L710.55 578.40ZM719.29 565.22L724.40 575.90L714.18 575.90Z" fill="#231f20" fill-rule="evenodd"/><circle cx="722.3" cy="596.6" r="9.3" fill="#fff" stroke="#231f20" stroke-width="2.1"/><path d="M715.7 590.0L728.9 603.2M728.9 590.0L715.7 603.2" stroke="#231f20" stroke-width="1.8"/><circle cx="742.0" cy="575.6" r="5.6" fill="#231f20"/><path d="M742.9 592.8L742.9 605.2M737.3 596.4L748.5 601.6M737.3 601.6L748.5 596.4" stroke="#231f20" stroke-width="2.9"/><circle cx="742.0" cy="617.8" r="9.3" fill="#fff" stroke="#231f20" stroke-width="2.1"/><path d="M735.4 611.2L748.6 624.4M748.6 611.2L735.4 624.4" stroke="#231f20" stroke-width="1.8"/><path d="M959.10 604.80L968.95 625.70L949.25 625.70ZM957.99 612.31L963.13 623.20L952.86 623.20Z" fill="#231f20" fill-rule="evenodd"/><circle cx="976.7" cy="610.5" r="5.6" fill="#231f20"/><circle cx="959.5" cy="643.4" r="9.3" fill="#fff" stroke="#231f20" stroke-width="2.1"/><path d="M952.9 636.8L966.1 650.0M966.1 636.8L952.9 650.0" stroke="#231f20" stroke-width="1.8"/><path d="M980.5 628.1L980.5 640.5M974.9 631.7L986.1 636.9M974.9 636.9L986.1 631.7" stroke="#231f20" stroke-width="2.9"/><circle cx="978.0" cy="656.2" r="9.3" fill="#fff" stroke="#231f20" stroke-width="2.1"/><path d="M971.4 649.6L984.6 662.8M984.6 649.6L971.4 662.8" stroke="#231f20" stroke-width="1.8"/><circle cx="1128.2" cy="598.1" r="5.6" fill="#231f20"/><path d="M1127.6 614.8L1127.6 627.2M1122.0 618.4L1133.2 623.6M1122.0 623.6L1133.2 618.4" stroke="#231f20" stroke-width="2.9"/><circle cx="1106.7" cy="644.8" r="9.3" fill="#fff" stroke="#231f20" stroke-width="2.1"/><path d="M1100.1 638.2L1113.3 651.4M1113.3 638.2L1100.1 651.4" stroke="#231f20" stroke-width="1.8"/><circle cx="1129.0" cy="646.7" r="9.3" fill="#fff" stroke="#231f20" stroke-width="2.1"/><path d="M1122.4 640.1L1135.6 653.3M1135.6 640.1L1122.4 653.3" stroke="#231f20" stroke-width="1.8"/><circle cx="1175.2" cy="638.7" r="5.6" fill="#231f20"/><path d="M1175.2 651.9L1175.2 664.3M1169.6 655.5L1180.8 660.7M1169.6 660.7L1180.8 655.5" stroke="#231f20" stroke-width="2.9"/><path d="M662.9 676.8L670.8 686.4L662.9 696.0L655.0 686.4Z" fill="#fff"/><path d="M662.9 676.8L670.8 686.4L662.9 696.0L655.0 686.4ZM662.9 680.7L667.5 686.4L662.9 692.1L658.3 686.4Z" fill="#231f20" fill-rule="evenodd"/><path d="M685.3 782.9L692.8 791.4L685.3 799.9L677.8 791.4Z" fill="#231f20"/><path d="M702.6 770.1L710.1 778.6L702.6 787.1L695.1 778.6Z" fill="#231f20"/><path d="M701.1 760.6 C698.6 756.3 692.5 751.4 692.5 747.0 C692.5 743.5 694.7 742.1 696.7 742.1 C699.1 742.1 700.6 743.8 701.1 745.7 C701.6 743.8 703.1 742.1 705.5 742.1 C707.5 742.1 709.8 743.5 709.8 747.0 C709.8 751.4 703.6 756.3 701.1 760.6Z" fill="#231f20"/><path d="M721.1 761.1L728.6 772.1L721.1 783.1L713.6 772.1Z" fill="#fff"/><path d="M721.1 761.1L728.6 772.1L721.1 783.1L713.6 772.1ZM721.1 765.5L725.6 772.1L721.1 778.7L716.6 772.1Z" fill="#231f20" fill-rule="evenodd"/><path d="M740.70 702.10L750.55 723.60L730.85 723.60ZM739.60 709.78L744.78 721.10L734.42 721.10Z" fill="#231f20" fill-rule="evenodd"/><circle cx="737.9" cy="741.4" r="5.6" fill="#231f20"/><path d="M738.6 755.2L738.6 767.6M733.0 758.8L744.2 764.0M733.0 764.0L744.2 758.8" stroke="#231f20" stroke-width="2.9"/><path d="M740.0 771.9L747.5 782.9L740.0 793.9L732.5 782.9Z" fill="#fff"/><path d="M740.0 771.9L747.5 782.9L740.0 793.9L732.5 782.9ZM740.0 776.3L744.5 782.9L740.0 789.5L735.5 782.9Z" fill="#231f20" fill-rule="evenodd"/><path d="M957.2 738.2L957.2 750.6M951.6 741.8L962.8 747.0M951.6 747.0L962.8 741.8" stroke="#231f20" stroke-width="2.9"/><path d="M956.30 756.20L966.15 777.10L946.45 777.10ZM955.19 763.71L960.33 774.60L950.06 774.60Z" fill="#231f20" fill-rule="evenodd"/><path d="M962.4 783.3L969.9 794.3L962.4 805.3L954.9 794.3Z" fill="#fff"/><path d="M962.4 783.3L969.9 794.3L962.4 805.3L954.9 794.3ZM962.4 787.7L966.9 794.3L962.4 800.9L957.9 794.3Z" fill="#231f20" fill-rule="evenodd"/><path d="M1110.50 750.50L1120.35 771.40L1100.65 771.40ZM1109.39 758.01L1114.53 768.90L1104.26 768.90Z" fill="#231f20" fill-rule="evenodd"/><circle cx="1136.6" cy="747.6" r="5.6" fill="#231f20"/><path d="M1135.2 763.7L1135.2 776.1M1129.6 767.3L1140.8 772.5M1129.6 772.5L1140.8 767.3" stroke="#231f20" stroke-width="2.9"/><path d="M1111.4 774.7L1118.9 785.7L1111.4 796.7L1103.9 785.7Z" fill="#fff"/><path d="M1111.4 774.7L1118.9 785.7L1111.4 796.7L1103.9 785.7ZM1111.4 779.1L1115.9 785.7L1111.4 792.3L1106.9 785.7Z" fill="#231f20" fill-rule="evenodd"/><path d="M1132.4 780.4L1139.9 791.4L1132.4 802.4L1124.9 791.4Z" fill="#fff"/><path d="M1132.4 780.4L1139.9 791.4L1132.4 802.4L1124.9 791.4ZM1132.4 784.8L1136.9 791.4L1132.4 798.0L1127.9 791.4Z" fill="#231f20" fill-rule="evenodd"/><path d="M1175.2 785.8L1175.2 798.2M1169.6 789.4L1180.8 794.6M1169.6 794.6L1180.8 789.4" stroke="#231f20" stroke-width="2.9"/><path d="M481.8 913.4L489.3 924.8L481.8 936.2L474.3 924.8Z" fill="#fff"/><path d="M481.8 913.4L489.3 924.8L481.8 936.2L474.3 924.8ZM481.8 917.9L486.3 924.8L481.8 931.7L477.3 924.8Z" fill="#231f20" fill-rule="evenodd"/><path d="M672.2 817.4L679.7 828.4L672.2 839.4L664.7 828.4Z" fill="#fff"/><path d="M672.2 817.4L679.7 828.4L672.2 839.4L664.7 828.4ZM672.2 821.8L676.7 828.4L672.2 835.0L667.7 828.4Z" fill="#231f20" fill-rule="evenodd"/><path d="M685.1 918.6L692.6 927.1L685.1 935.6L677.6 927.1Z" fill="#231f20"/><path d="M700.2 926.0L707.7 934.5L700.2 943.0L692.7 934.5Z" fill="#231f20"/><path d="M698.4 922.4 C695.9 918.0 689.8 913.1 689.8 908.7 C689.8 905.2 692.0 903.9 694.0 903.9 C696.4 903.9 697.9 905.5 698.4 907.4 C698.9 905.5 700.4 903.9 702.8 903.9 C704.8 903.9 707.0 905.2 707.0 908.7 C707.0 913.1 700.9 918.0 698.4 922.4Z" fill="#231f20"/><rect x="710.5" y="928.1" width="13.3" height="19.9" fill="#fff" stroke="#555" stroke-width="1.4"/><path d="M721.1 902.8L728.6 913.8L721.1 924.8L713.6 913.8Z" fill="#fff"/><path d="M721.1 902.8L728.6 913.8L721.1 924.8L713.6 913.8ZM721.1 907.2L725.6 913.8L721.1 920.4L716.6 913.8Z" fill="#231f20" fill-rule="evenodd"/><path d="M739.2 902.8L746.7 913.8L739.2 924.8L731.7 913.8Z" fill="#fff"/><path d="M739.2 902.8L746.7 913.8L739.2 924.8L731.7 913.8ZM739.2 907.2L743.7 913.8L739.2 920.4L734.7 913.8Z" fill="#231f20" fill-rule="evenodd"/><path d="M738.00 880.40L747.85 901.30L728.15 901.30ZM736.89 887.91L742.03 898.80L731.76 898.80Z" fill="#231f20" fill-rule="evenodd"/><path d="M961.0 866.3L961.0 878.7M955.4 869.9L966.6 875.1M955.4 875.1L966.6 869.9" stroke="#231f20" stroke-width="2.9"/><path d="M961.40 890.00L971.25 911.00L951.55 911.00ZM960.30 897.54L965.44 908.50L955.15 908.50Z" fill="#231f20" fill-rule="evenodd"/><path d="M964.9 916.7L972.4 927.7L964.9 938.7L957.4 927.7Z" fill="#fff"/><path d="M964.9 916.7L972.4 927.7L964.9 938.7L957.4 927.7ZM964.9 921.1L969.4 927.7L964.9 934.3L960.4 927.7Z" fill="#231f20" fill-rule="evenodd"/><path d="M1109.0 916.1L1116.5 927.1L1109.0 938.1L1101.5 927.1Z" fill="#fff"/><path d="M1109.0 916.1L1116.5 927.1L1109.0 938.1L1101.5 927.1ZM1109.0 920.5L1113.5 927.1L1109.0 933.7L1104.5 927.1Z" fill="#231f20" fill-rule="evenodd"/><path d="M1128.0 885.3L1128.0 897.7M1122.4 888.9L1133.6 894.1M1122.4 894.1L1133.6 888.9" stroke="#231f20" stroke-width="2.9"/><circle cx="1129.9" cy="911.0" r="5.6" fill="#231f20"/><path d="M1132.0 921.5L1139.5 932.5L1132.0 943.5L1124.5 932.5Z" fill="#fff"/><path d="M1132.0 921.5L1139.5 932.5L1132.0 943.5L1124.5 932.5ZM1132.0 925.9L1136.5 932.5L1132.0 939.1L1127.5 932.5Z" fill="#231f20" fill-rule="evenodd"/><path d="M1172.4 921.5L1179.9 932.5L1172.4 943.5L1164.9 932.5Z" fill="#fff"/><path d="M1172.4 921.5L1179.9 932.5L1172.4 943.5L1164.9 932.5ZM1172.4 925.9L1176.9 932.5L1172.4 939.1L1167.9 932.5Z" fill="#231f20" fill-rule="evenodd"/>
<path d="M274.0 30.5L281.6 41.5L274.0 52.5L266.4 41.5Z" fill="#fff"/><path d="M274.0 30.5L281.6 41.5L274.0 52.5L266.4 41.5ZM274.0 32.8L280.1 41.5L274.0 50.2L267.9 41.5Z" fill="#231f20" fill-rule="evenodd"/><path d="M383.0 32.4L391.3 43.8L383.0 55.2L374.7 43.8Z" fill="#231f20"/><path d="M506.5 51.5 C504.0 47.0 498.0 42.0 498.0 37.5 C498.0 33.8 500.2 32.5 502.2 32.5 C504.5 32.5 506.0 34.2 506.5 36.2 C507.0 34.2 508.5 32.5 510.8 32.5 C512.8 32.5 515.0 33.8 515.0 37.5 C515.0 42.0 509.0 47.0 506.5 51.5Z" fill="#231f20"/><rect x="597.2" y="37" width="16.4" height="18.5" fill="none" stroke="#231f20" stroke-width="1.3"/><circle cx="728.8" cy="44.0" r="10.3" fill="#fff" stroke="#231f20" stroke-width="2.3"/><path d="M721.5 36.7L736.1 51.3M736.1 36.7L721.5 51.3" stroke="#231f20" stroke-width="2.3"/><circle cx="852.0" cy="42.9" r="7" fill="#231f20"/><circle cx="1007.6" cy="43.5" r="10.2" fill="#fff" stroke="#231f20" stroke-width="1.5"/><path d="M997.4 43.5L1017.8 43.5M1007.6 33.3L1007.6 53.7" stroke="#231f20" stroke-width="1.5"/><path d="M1177.40 56.60L1167.95 34.90L1186.85 34.90Z" fill="#fff"/><path d="M1177.40 56.60L1167.95 34.90L1186.85 34.90ZM1178.44 50.71L1172.20 36.40L1184.67 36.40Z" fill="#231f20" fill-rule="evenodd"/><circle cx="340.5" cy="98.5" r="9.2" fill="#fff" stroke="#231f20" stroke-width="1.1"/><text x="340.5" y="104.4" font-size="18" font-weight="normal" text-anchor="middle" class="s">R</text><path d="M931.40 82.80L940.80 104.80L922.00 104.80ZM930.31 88.65L936.66 103.50L923.97 103.50Z" fill="#231f20" fill-rule="evenodd"/><circle cx="1066.0" cy="94.2" r="10.4" fill="#fff" stroke="#231f20" stroke-width="1.2"/><text x="1066.0" y="100.5" font-size="19" font-weight="normal" text-anchor="middle" class="s">C</text><text x="1225.5" y="105" font-size="32" text-anchor="middle" class="s">Θ</text>
<text x="291" y="58" font-size="41" class="s"><tspan>TiAl</tspan></text><text x="396" y="58" font-size="41" class="s"><tspan>Ti</tspan><tspan font-size="24.8" dy="6.5">5</tspan><tspan dy="-6.5">Si</tspan><tspan font-size="24.8" dy="6.5">3</tspan></text><text x="522.5" y="58" font-size="41" class="s"><tspan>TiN</tspan></text><text x="623" y="58" font-size="41" class="s"><tspan>Fe</tspan><tspan font-size="24.8" dy="6.5">3</tspan><tspan dy="-6.5">N</tspan></text><text x="746.5" y="58" font-size="41" class="s"><tspan>TiAl</tspan><tspan font-size="24.8" dy="6.5">2</tspan></text><text x="867" y="58" font-size="41" class="s"><tspan>Ti</tspan><tspan font-size="24.8" dy="6.5">2</tspan><tspan dy="-6.5">AlN</tspan></text><text x="1023.5" y="58" font-size="41" class="s"><tspan>Ti</tspan><tspan font-size="24.8" dy="6.5">2.5</tspan><tspan dy="-6.5">Al</tspan><tspan font-size="24.8" dy="6.5">1.5</tspan></text><text x="1193.5" y="58" font-size="41" class="s"><tspan>Al</tspan><tspan font-size="24.8" dy="6.5">2.8</tspan><tspan dy="-6.5">Mn</tspan><tspan font-size="24.8" dy="6.5">0.4</tspan><tspan dy="-6.5">Ti</tspan><tspan font-size="24.8" dy="6.5">0.8</tspan></text><text x="359.5" y="110" font-size="41" class="s"><tspan>Al</tspan><tspan font-size="24.8" dy="6.5">1.24</tspan><tspan dy="-6.5">Mn</tspan><tspan font-size="24.8" dy="6.5">0.76</tspan><tspan dy="-6.5">Ti</tspan></text><text x="793.5" y="105" font-size="33" class="s">*</text><text x="828.5" y="107" font-size="41" class="s"><tspan>FeN</tspan></text><text x="960.5" y="107" font-size="41" class="s"><tspan>AIN</tspan></text><text x="1098" y="104.3" font-size="41" class="s"><tspan>Al</tspan><tspan font-size="24.8" dy="6.5">2</tspan><tspan dy="-6.5">O</tspan><tspan font-size="24.8" dy="6.5">3</tspan></text><text x="1256.5" y="107" font-size="41" class="s"><tspan>MnO</tspan></text><text x="1418" y="302" font-size="56" text-anchor="end" class="s">1 200 <tspan class="cj" font-size="49" font-weight="600" dy="-1.8">℃</tspan></text><text x="1418" y="465.5" font-size="56" text-anchor="end" class="s">1 100 <tspan class="cj" font-size="49" font-weight="600" dy="-1.8">℃</tspan></text><text x="1418" y="655.8" font-size="56" text-anchor="end" class="s">1 000 <tspan class="cj" font-size="49" font-weight="600" dy="-1.8">℃</tspan></text><text x="1418" y="798" font-size="56" text-anchor="end" class="s">900 <tspan class="cj" font-size="49" font-weight="600" dy="-1.8">℃</tspan></text><text x="1418" y="930.5" font-size="56" text-anchor="end" class="s">800 <tspan class="cj" font-size="49" font-weight="600" dy="-1.8">℃</tspan></text><text x="1420.5" y="239" font-size="55" text-anchor="end" class="cj">原样</text><text x="248.3" y="1039.3" font-size="56" text-anchor="middle" class="s">0</text><text x="430.3" y="1039.3" font-size="56" text-anchor="middle" class="s">20</text><text x="612.3" y="1039.3" font-size="56" text-anchor="middle" class="s">40</text><text x="794.3" y="1039.3" font-size="56" text-anchor="middle" class="s">60</text><text x="976.3" y="1039.3" font-size="56" text-anchor="middle" class="s">80</text><text x="1158.3" y="1039.3" font-size="56" text-anchor="middle" class="s">100</text><text x="1340.3" y="1039.3" font-size="56" text-anchor="middle" class="s">120</text><text x="772.5" y="1103.5" font-size="55" class="s">2<tspan font-style="italic">θ</tspan>/(°)</text><text transform="translate(193 487) rotate(-90)" font-size="55" text-anchor="middle" class="cj">强度</text>
</svg>
</body></html>
